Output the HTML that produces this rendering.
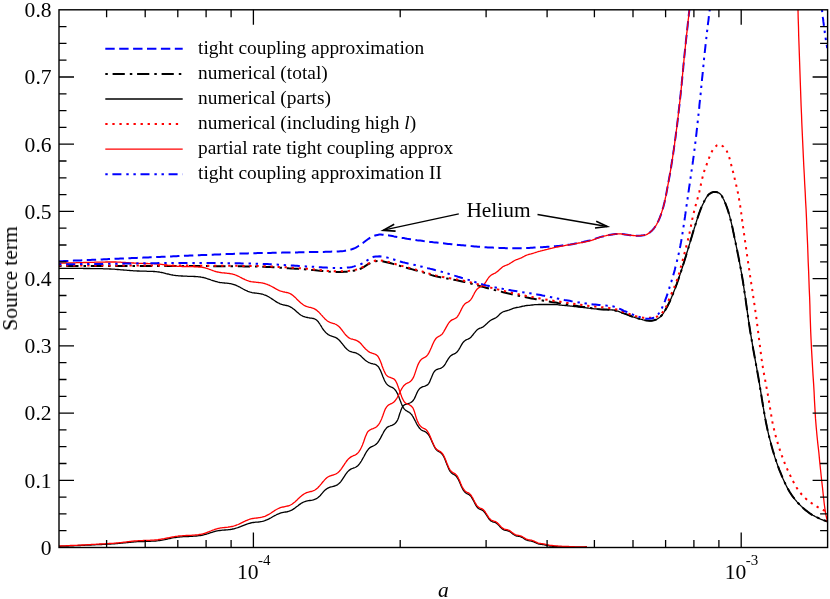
<!DOCTYPE html>
<html><head><meta charset="utf-8"><title>Source term</title>
<style>
html,body{margin:0;padding:0;background:#fff;}
body{width:830px;height:599px;overflow:hidden;}
svg{display:block;font-family:"Liberation Serif",serif;}
</style></head><body>
<svg width="830" height="599" viewBox="0 0 830 599">
<rect x="0" y="0" width="830" height="599" fill="#fff"/>
<defs><clipPath id="cp"><rect x="59.0" y="9.8" width="768.6" height="537.7"/></clipPath></defs>
<g fill="none" clip-path="url(#cp)" stroke-linejoin="round">
<path d="M59.0 261.3 L60.7 261.2 L62.3 261.2 L64.0 261.1 L65.6 261.0 L67.3 260.9 L68.9 260.9 L70.6 260.8 L72.2 260.7 L73.9 260.6 L75.5 260.6 L77.2 260.5 L78.9 260.4 L80.5 260.4 L82.2 260.3 L83.8 260.2 L85.5 260.1 L87.1 260.1 L88.8 260.0 L90.4 259.9 L92.1 259.8 L93.7 259.8 L95.4 259.7 L97.1 259.6 L98.7 259.6 L100.4 259.5 L102.0 259.4 L103.7 259.3 L105.3 259.3 L107.0 259.2 L108.6 259.1 L110.3 259.0 L111.9 259.0 L113.6 258.9 L115.2 258.8 L116.9 258.8 L118.6 258.7 L120.2 258.6 L121.9 258.5 L123.5 258.5 L125.2 258.4 L126.8 258.3 L128.5 258.2 L130.1 258.2 L131.8 258.1 L133.4 258.0 L135.1 257.9 L136.8 257.9 L138.4 257.8 L140.1 257.7 L141.7 257.7 L143.4 257.6 L145.0 257.5 L146.7 257.4 L148.3 257.4 L150.0 257.3 L151.6 257.2 L153.3 257.2 L155.0 257.1 L156.6 257.0 L158.3 256.9 L159.9 256.9 L161.6 256.8 L163.2 256.7 L164.9 256.7 L166.5 256.6 L168.2 256.5 L169.8 256.4 L171.5 256.4 L173.2 256.3 L174.8 256.2 L176.5 256.2 L178.1 256.1 L179.8 256.0 L181.4 256.0 L183.1 255.9 L184.7 255.8 L186.4 255.8 L188.0 255.7 L189.7 255.6 L191.4 255.5 L193.0 255.5 L194.7 255.4 L196.3 255.3 L198.0 255.3 L199.6 255.2 L201.3 255.1 L202.9 255.1 L204.6 255.0 L206.2 254.9 L207.9 254.9 L209.6 254.8 L211.2 254.7 L212.9 254.7 L214.5 254.6 L216.2 254.5 L217.8 254.5 L219.5 254.4 L221.1 254.3 L222.8 254.3 L224.4 254.2 L226.1 254.1 L227.8 254.1 L229.4 254.0 L231.1 253.9 L232.7 253.9 L234.4 253.8 L236.0 253.7 L237.7 253.7 L239.3 253.6 L241.0 253.6 L242.6 253.5 L244.3 253.5 L246.0 253.4 L247.6 253.4 L249.3 253.3 L250.9 253.3 L252.6 253.2 L254.2 253.2 L255.9 253.2 L257.5 253.1 L259.2 253.1 L260.9 253.0 L262.5 253.0 L264.2 253.0 L265.8 252.9 L267.5 252.9 L269.1 252.9 L270.8 252.9 L272.4 252.8 L274.1 252.8 L275.8 252.8 L277.4 252.7 L279.1 252.7 L280.7 252.7 L282.4 252.6 L284.0 252.6 L285.7 252.6 L287.3 252.6 L289.0 252.5 L290.7 252.5 L292.3 252.5 L294.0 252.4 L295.6 252.4 L297.3 252.4 L298.9 252.3 L300.6 252.3 L302.2 252.3 L303.9 252.2 L305.6 252.2 L307.2 252.2 L308.9 252.1 L310.5 252.1 L312.2 252.1 L313.9 252.0 L315.5 252.0 L317.2 252.0 L318.8 252.0 L320.5 251.9 L322.1 251.9 L323.8 251.9 L325.5 251.8 L327.1 251.8 L328.8 251.7 L330.4 251.7 L332.1 251.6 L333.7 251.6 L335.4 251.5 L337.0 251.4 L338.7 251.4 L340.3 251.3 L342.0 251.2 L343.6 251.0 L345.3 250.7 L346.9 250.4 L348.5 250.1 L350.1 249.8 L351.7 249.3 L353.3 248.7 L354.8 248.1 L356.3 247.3 L357.7 246.5 L359.1 245.6 L360.5 244.7 L361.8 243.7 L363.2 242.7 L364.5 241.7 L365.8 240.7 L367.2 239.7 L368.5 238.8 L369.9 237.9 L371.4 237.1 L372.9 236.3 L374.4 235.7 L376.0 235.2 L377.6 234.9 L379.2 234.6 L380.9 234.6 L382.5 234.7 L384.2 234.9 L385.8 235.1 L387.5 235.3 L389.1 235.5 L390.8 235.7 L392.4 236.0 L394.0 236.4 L395.6 236.7 L397.3 237.0 L398.9 237.3 L400.5 237.6 L402.2 237.9 L403.8 238.1 L405.4 238.4 L407.1 238.7 L408.7 238.9 L410.3 239.2 L412.0 239.4 L413.6 239.7 L415.2 239.9 L416.9 240.2 L418.5 240.4 L420.2 240.6 L421.8 240.8 L423.4 241.1 L425.1 241.3 L426.7 241.5 L428.4 241.7 L430.0 241.9 L431.7 242.1 L433.3 242.3 L435.0 242.4 L436.6 242.6 L438.2 242.8 L439.9 243.0 L441.5 243.2 L443.2 243.3 L444.8 243.5 L446.5 243.7 L448.1 243.9 L449.8 244.0 L451.4 244.2 L453.1 244.4 L454.7 244.5 L456.4 244.7 L458.0 244.9 L459.7 245.0 L461.3 245.2 L463.0 245.3 L464.6 245.5 L466.3 245.6 L467.9 245.8 L469.6 245.9 L471.2 246.1 L472.9 246.2 L474.5 246.4 L476.2 246.5 L477.8 246.7 L479.5 246.8 L481.1 246.9 L482.8 247.1 L484.4 247.2 L486.1 247.3 L487.7 247.4 L489.4 247.5 L491.0 247.5 L492.7 247.6 L494.3 247.7 L496.0 247.8 L497.6 247.8 L499.3 247.9 L501.0 248.0 L502.6 248.0 L504.3 248.1 L505.9 248.2 L507.6 248.2 L509.2 248.2 L510.9 248.3 L512.5 248.3 L514.2 248.3 L515.9 248.3 L517.5 248.3 L519.2 248.3 L520.8 248.2 L522.5 248.2 L524.1 248.1 L525.8 248.0 L527.4 248.0 L529.1 247.9 L530.7 247.8 L532.4 247.7 L534.1 247.6 L535.7 247.5 L537.4 247.4 L539.0 247.4 L540.7 247.3 L542.3 247.2 L544.0 247.1 L545.6 247.0 L547.3 246.8 L548.9 246.7 L550.6 246.6 L552.2 246.5 L553.9 246.3 L555.6 246.2 L557.2 246.0 L558.8 245.9 L560.5 245.7 L562.1 245.5 L563.8 245.3 L565.4 245.2 L567.1 244.9 L568.7 244.7 L570.3 244.5 L572.0 244.2 L573.6 243.9 L575.2 243.6 L576.9 243.3 L578.5 242.9 L580.1 242.6 L581.7 242.2 L583.3 241.9 L585.0 241.5 L586.6 241.1 L588.2 240.7 L589.8 240.4 L591.4 239.9 L593.0 239.5 L594.6 239.0 L596.1 238.4 L597.7 237.9 L599.3 237.4 L600.9 236.9 L602.5 236.5 L604.1 236.1 L605.7 235.8 L607.3 235.4 L608.9 235.1 L610.6 234.8 L612.2 234.5 L613.8 234.3 L615.5 234.1 L617.1 233.9 L618.8 233.8 L620.4 233.9 L622.1 234.1 L623.7 234.3 L625.4 234.5 L627.0 234.7 L628.7 235.0 L630.3 235.2 L632.0 235.4 L633.6 235.6 L635.3 235.7 L636.9 235.8 L638.6 235.8 L640.2 235.7 L641.9 235.5 L643.6 235.3 L645.1 235.0 L646.6 234.5 L648.1 233.7 L649.5 232.7 L650.9 231.5 L652.1 230.4 L653.2 229.3 L654.2 228.0 L655.2 226.7 L656.1 225.2 L656.9 223.8 L657.7 222.2 L658.5 220.7 L659.1 219.3 L659.8 217.7 L660.4 216.2 L660.9 214.7 L661.5 213.1 L662.0 211.5 L662.5 209.9 L662.9 208.3 L663.4 206.7 L663.8 205.1 L664.2 203.5 L664.6 201.9 L664.9 200.3 L665.3 198.6 L665.6 197.0 L666.0 195.4 L666.3 193.8 L666.6 192.1 L666.9 190.5 L667.2 188.9 L667.5 187.3 L667.8 185.6 L668.1 184.0 L668.4 182.4 L668.7 180.7 L669.0 179.1 L669.3 177.5 L669.6 175.8 L669.9 174.2 L670.2 172.6 L670.4 170.9 L670.7 169.3 L671.0 167.7 L671.3 166.0 L671.5 164.4 L671.8 162.8 L672.0 161.1 L672.3 159.5 L672.6 157.9 L672.8 156.2 L673.1 154.6 L673.3 153.0 L673.5 151.3 L673.8 149.7 L674.0 148.0 L674.2 146.4 L674.5 144.8 L674.7 143.1 L674.9 141.5 L675.1 139.8 L675.4 138.2 L675.6 136.6 L675.8 134.9 L676.0 133.3 L676.2 131.6 L676.4 130.0 L676.7 128.3 L676.9 126.7 L677.1 125.1 L677.3 123.4 L677.5 121.8 L677.7 120.1 L677.9 118.5 L678.1 116.8 L678.3 115.2 L678.5 113.5 L678.6 111.9 L678.8 110.3 L679.0 108.6 L679.2 107.0 L679.4 105.3 L679.6 103.7 L679.8 102.0 L680.0 100.4 L680.1 98.7 L680.3 97.1 L680.5 95.4 L680.7 93.8 L680.8 92.2 L681.0 90.5 L681.2 88.9 L681.3 87.2 L681.5 85.6 L681.7 83.9 L681.8 82.3 L682.0 80.6 L682.2 79.0 L682.3 77.3 L682.5 75.7 L682.6 74.0 L682.8 72.4 L683.0 70.7 L683.1 69.1 L683.3 67.4 L683.4 65.8 L683.6 64.1 L683.7 62.5 L683.9 60.8 L684.1 59.2 L684.2 57.5 L684.4 55.9 L684.6 54.2 L684.7 52.6 L684.9 51.0 L685.1 49.3 L685.2 47.7 L685.4 46.0 L685.6 44.4 L685.8 42.7 L685.9 41.1 L686.1 39.4 L686.3 37.8 L686.5 36.1 L686.7 34.5 L686.8 32.8 L687.0 31.2 L687.2 29.5 L687.4 27.9 L687.6 26.3 L687.7 24.6 L687.9 23.0 L688.1 21.3 L688.3 19.7 L688.5 18.0 L688.7 16.4 L688.8 14.7 L689.0 13.1 L689.2 11.4 L689.4 9.8" stroke="#0000ff" stroke-width="2" stroke-dasharray="9.4 4.5"/>
<path d="M59.0 266.0 L61.2 266.0 L63.5 266.0 L65.7 266.0 L67.9 266.0 L70.2 266.0 L72.4 266.0 L74.6 266.0 L76.8 266.0 L79.1 266.0 L81.3 266.0 L83.5 266.0 L85.8 266.0 L88.0 266.0 L90.2 266.0 L92.5 266.0 L94.7 266.0 L96.9 266.0 L99.1 266.0 L101.4 266.0 L103.6 266.0 L105.8 266.0 L108.1 266.0 L110.3 266.0 L112.5 266.0 L114.8 266.0 L117.0 266.0 L119.2 266.0 L121.4 266.0 L123.7 266.0 L125.9 266.0 L128.1 266.0 L130.4 266.0 L132.6 266.0 L134.8 266.0 L137.1 266.0 L139.3 266.0 L141.5 266.0 L143.7 266.0 L146.0 266.0 L148.2 266.0 L150.4 266.0 L152.7 266.0 L154.9 266.0 L157.1 266.0 L159.4 266.0 L161.6 266.0 L163.8 266.0 L166.1 266.0 L168.3 266.0 L170.5 266.0 L172.7 266.0 L175.0 266.0 L177.2 266.0 L179.4 266.0 L181.7 266.0 L183.9 266.0 L186.1 266.1 L188.4 266.1 L190.6 266.1 L192.8 266.1 L195.1 266.1 L197.3 266.1 L199.5 266.1 L201.7 266.1 L204.0 266.1 L206.2 266.1 L208.4 266.1 L210.7 266.1 L212.9 266.2 L215.1 266.2 L217.4 266.2 L219.6 266.2 L221.8 266.2 L224.0 266.2 L226.3 266.2 L228.5 266.2 L230.7 266.3 L233.0 266.3 L235.2 266.3 L237.4 266.3 L239.7 266.3 L241.9 266.3 L244.1 266.4 L246.3 266.4 L248.6 266.4 L250.8 266.4 L253.0 266.4 L255.3 266.5 L257.5 266.5 L259.7 266.6 L261.9 266.7 L264.2 266.8 L266.4 266.9 L268.6 267.0 L270.8 267.1 L273.1 267.3 L275.3 267.4 L277.5 267.5 L279.8 267.7 L282.0 267.8 L284.2 268.0 L286.4 268.1 L288.7 268.3 L290.9 268.4 L293.1 268.6 L295.3 268.7 L297.6 268.8 L299.8 269.0 L302.0 269.1 L304.2 269.3 L306.5 269.5 L308.7 269.7 L310.9 269.9 L313.1 270.1 L315.4 270.3 L317.6 270.6 L319.8 270.8 L322.0 271.0 L324.3 271.2 L326.5 271.4 L328.7 271.6 L330.9 271.7 L333.2 271.8 L335.4 271.9 L337.6 272.0 L339.8 272.0 L342.1 272.0 L344.3 271.8 L346.5 271.7 L348.7 271.4 L350.9 271.2 L353.2 270.8 L355.3 270.4 L357.5 269.8 L359.6 269.0 L361.7 268.2 L363.6 267.1 L365.5 265.9 L367.4 264.7 L369.3 263.6 L371.3 262.6 L373.4 261.7 L375.5 261.2 L377.8 261.1 L380.0 261.0 L382.2 261.2 L384.4 261.7 L386.6 262.2 L388.8 262.7 L390.9 263.3 L393.1 263.9 L395.2 264.6 L397.3 265.2 L399.5 265.8 L401.6 266.5 L403.8 267.0 L405.9 267.6 L408.1 268.2 L410.2 268.8 L412.4 269.4 L414.5 270.0 L416.7 270.6 L418.8 271.2 L421.0 271.8 L423.1 272.4 L425.2 273.1 L427.4 273.7 L429.5 274.4 L431.6 275.1 L433.8 275.7 L435.9 276.2 L438.1 276.8 L440.3 277.2 L442.4 277.7 L444.6 278.1 L446.8 278.5 L449.0 278.9 L451.2 279.3 L453.4 279.7 L455.6 280.1 L457.8 280.5 L460.0 280.9 L462.2 281.4 L464.4 281.9 L466.5 282.4 L468.7 282.9 L470.9 283.5 L473.0 284.0 L475.2 284.6 L477.3 285.2 L479.5 285.9 L481.6 286.5 L483.7 287.1 L485.9 287.7 L488.0 288.3 L490.2 288.9 L492.4 289.4 L494.5 290.0 L496.7 290.5 L498.8 291.1 L501.0 291.6 L503.2 292.2 L505.3 292.7 L507.5 293.3 L509.7 293.8 L511.8 294.3 L514.0 294.8 L516.2 295.3 L518.4 295.7 L520.5 296.2 L522.7 296.7 L524.9 297.1 L527.1 297.6 L529.3 298.0 L531.5 298.4 L533.7 298.8 L535.9 299.2 L538.1 299.7 L540.2 300.0 L542.4 300.4 L544.6 300.8 L546.8 301.2 L549.0 301.5 L551.2 301.9 L553.5 302.2 L555.7 302.5 L557.9 302.9 L560.1 303.2 L562.3 303.6 L564.5 303.9 L566.7 304.3 L568.9 304.6 L571.1 305.0 L573.3 305.4 L575.5 305.7 L577.7 306.1 L579.9 306.4 L582.1 306.8 L584.3 307.1 L586.5 307.5 L588.7 307.8 L590.9 308.1 L593.1 308.5 L595.3 308.8 L597.5 309.1 L599.7 309.3 L602.0 309.4 L604.2 309.5 L606.5 309.6 L608.7 309.7 L610.9 309.9 L613.1 310.1 L615.3 310.5 L617.4 311.1 L619.5 311.8 L621.6 312.6 L623.8 313.4 L625.9 314.1 L628.0 314.9 L630.1 315.7 L632.1 316.5 L634.2 317.3 L636.3 318.0 L638.5 318.6 L640.6 319.2 L642.8 319.7 L645.0 320.2 L647.2 320.6 L649.4 320.8 L651.7 320.7 L653.9 320.3 L656.0 319.6 L658.0 318.5 L659.8 317.3 L661.3 315.8 L662.7 314.1 L664.0 312.2 L665.2 310.2 L666.3 308.2 L667.4 306.3 L668.4 304.3 L669.4 302.3 L670.3 300.3 L671.2 298.2 L672.1 296.1 L672.9 294.1 L673.7 292.0 L674.5 289.9 L675.3 287.8 L676.1 285.7 L676.9 283.6 L677.6 281.5 L678.4 279.4 L679.1 277.3 L679.8 275.2 L680.5 273.1 L681.2 271.0 L681.9 268.8 L682.6 266.7 L683.2 264.6 L683.9 262.5 L684.6 260.3 L685.2 258.2 L685.9 256.1 L686.5 253.9 L687.2 251.8 L687.8 249.7 L688.5 247.5 L689.1 245.4 L689.8 243.3 L690.4 241.1 L691.0 239.0 L691.7 236.8 L692.3 234.7 L692.9 232.6 L693.6 230.4 L694.2 228.3 L694.9 226.2 L695.6 224.1 L696.3 221.9 L697.0 219.8 L697.7 217.6 L698.4 215.5 L699.1 213.4 L699.9 211.3 L700.7 209.2 L701.5 207.2 L702.4 205.2 L703.4 203.1 L704.4 201.0 L705.5 198.9 L706.8 196.9 L708.1 195.1 L709.6 193.8 L711.4 192.7 L713.6 191.9 L715.8 191.9 L718.1 192.6 L719.8 193.5 L721.2 195.0 L722.4 197.0 L723.5 199.2 L724.5 201.4 L725.4 203.4 L726.2 205.5 L727.0 207.6 L727.7 209.7 L728.4 211.9 L729.0 214.0 L729.6 216.2 L730.2 218.3 L730.8 220.5 L731.3 222.6 L731.8 224.8 L732.3 227.0 L732.8 229.2 L733.2 231.4 L733.7 233.5 L734.1 235.7 L734.6 237.9 L735.0 240.1 L735.5 242.3 L735.9 244.5 L736.4 246.7 L736.8 248.8 L737.3 251.0 L737.7 253.2 L738.2 255.4 L738.6 257.6 L739.0 259.8 L739.4 262.0 L739.8 264.2 L740.3 266.4 L740.7 268.5 L741.1 270.7 L741.5 272.9 L741.8 275.1 L742.2 277.3 L742.6 279.5 L743.0 281.7 L743.3 283.9 L743.7 286.1 L744.0 288.3 L744.3 290.5 L744.6 292.7 L745.0 295.0 L745.3 297.2 L745.6 299.4 L745.9 301.6 L746.2 303.8 L746.5 306.0 L746.8 308.2 L747.1 310.4 L747.4 312.6 L747.7 314.8 L748.1 317.0 L748.4 319.3 L748.7 321.5 L749.0 323.7 L749.4 325.9 L749.7 328.1 L750.0 330.3 L750.4 332.5 L750.8 334.7 L751.1 336.9 L751.5 339.1 L751.9 341.3 L752.3 343.5 L752.6 345.7 L753.0 347.9 L753.4 350.1 L753.8 352.3 L754.2 354.5 L754.6 356.6 L755.0 358.8 L755.4 361.0 L755.8 363.2 L756.2 365.4 L756.6 367.6 L757.0 369.8 L757.4 372.0 L757.8 374.2 L758.2 376.4 L758.6 378.6 L758.9 380.8 L759.3 383.0 L759.7 385.2 L760.0 387.4 L760.4 389.6 L760.8 391.8 L761.1 394.0 L761.5 396.2 L761.8 398.4 L762.2 400.6 L762.5 402.8 L762.9 405.0 L763.3 407.2 L763.6 409.4 L764.0 411.6 L764.4 413.8 L764.8 416.0 L765.2 418.2 L765.6 420.4 L766.0 422.6 L766.5 424.8 L766.9 426.9 L767.4 429.1 L767.9 431.3 L768.4 433.5 L768.9 435.6 L769.4 437.8 L770.0 440.0 L770.6 442.1 L771.1 444.3 L771.7 446.4 L772.3 448.6 L772.9 450.7 L773.6 452.9 L774.2 455.0 L774.9 457.1 L775.6 459.2 L776.3 461.4 L777.0 463.5 L777.8 465.6 L778.5 467.7 L779.3 469.8 L780.2 471.8 L781.0 473.9 L781.8 476.0 L782.7 478.0 L783.6 480.0 L784.5 482.1 L785.5 484.1 L786.5 486.1 L787.5 488.1 L788.6 490.1 L789.7 492.0 L790.9 493.8 L792.1 495.7 L793.5 497.5 L794.9 499.3 L796.3 501.0 L797.8 502.7 L799.3 504.3 L800.9 505.8 L802.5 507.4 L804.2 508.9 L805.9 510.4 L807.7 511.8 L809.5 513.1 L811.3 514.3 L813.2 515.4 L815.1 516.4 L817.1 517.4 L819.1 518.4 L821.2 519.3 L823.3 520.1 L825.4 520.8 L827.6 521.5" stroke="#000000" stroke-width="2" stroke-dasharray="2.5 4.8 12.2 5"/>
<path d="M59.0 268.3 L59.9 268.3 L60.8 268.3 L61.7 268.3 L62.6 268.3 L63.6 268.3 L64.5 268.3 L65.4 268.3 L66.3 268.3 L67.2 268.3 L68.1 268.3 L69.0 268.3 L69.9 268.3 L70.8 268.3 L71.7 268.3 L72.6 268.4 L73.6 268.4 L74.5 268.4 L75.4 268.4 L76.3 268.4 L77.2 268.4 L78.1 268.4 L79.0 268.4 L79.9 268.4 L80.8 268.4 L81.7 268.4 L82.7 268.4 L83.6 268.5 L84.5 268.5 L85.4 268.5 L86.3 268.5 L87.2 268.5 L88.1 268.5 L89.0 268.5 L89.9 268.5 L90.8 268.6 L91.7 268.6 L92.7 268.6 L93.6 268.6 L94.5 268.6 L95.4 268.6 L96.3 268.6 L97.2 268.6 L98.1 268.7 L99.0 268.7 L99.9 268.7 L100.8 268.7 L101.7 268.7 L102.6 268.7 L103.6 268.8 L104.5 268.8 L105.4 268.8 L106.3 268.8 L107.2 268.9 L108.1 268.9 L109.0 268.9 L109.9 269.0 L110.8 269.0 L111.7 269.1 L112.6 269.1 L113.6 269.2 L114.5 269.2 L115.4 269.3 L116.3 269.4 L117.2 269.5 L118.1 269.5 L119.0 269.6 L119.9 269.7 L120.8 269.8 L121.7 269.8 L122.6 269.9 L123.5 270.0 L124.4 270.1 L125.4 270.2 L126.3 270.2 L127.2 270.3 L128.1 270.4 L129.0 270.4 L129.9 270.5 L130.8 270.6 L131.7 270.6 L132.6 270.7 L133.5 270.8 L134.4 270.8 L135.3 270.9 L136.3 270.9 L137.2 271.0 L138.1 271.0 L139.0 271.0 L139.9 271.1 L140.8 271.1 L141.7 271.1 L142.6 271.1 L143.5 271.2 L144.4 271.2 L145.3 271.2 L146.2 271.2 L147.1 271.3 L148.1 271.3 L149.0 271.3 L149.9 271.3 L150.8 271.4 L151.7 271.4 L152.6 271.4 L153.5 271.5 L154.4 271.5 L155.3 271.6 L156.2 271.7 L157.1 271.8 L158.0 271.9 L158.9 272.0 L159.8 272.2 L160.7 272.3 L161.6 272.5 L162.5 272.7 L163.4 272.9 L164.3 273.1 L165.2 273.3 L166.1 273.6 L167.0 273.8 L167.9 274.0 L168.8 274.2 L169.7 274.5 L170.6 274.7 L171.5 274.8 L172.4 275.0 L173.3 275.2 L174.2 275.3 L175.1 275.4 L176.0 275.6 L176.9 275.7 L177.8 275.7 L178.7 275.8 L179.6 275.9 L180.5 275.9 L181.4 276.0 L182.3 276.0 L183.2 276.1 L184.2 276.1 L185.1 276.2 L186.0 276.2 L186.9 276.2 L187.8 276.3 L188.7 276.3 L189.6 276.3 L190.5 276.3 L191.4 276.4 L192.3 276.4 L193.2 276.4 L194.1 276.5 L195.0 276.5 L195.9 276.6 L196.8 276.7 L197.7 276.7 L198.6 276.8 L199.5 276.9 L200.4 277.0 L201.3 277.2 L202.2 277.3 L203.1 277.5 L204.0 277.7 L204.9 278.0 L205.8 278.2 L206.7 278.5 L207.6 278.8 L208.5 279.1 L209.4 279.4 L210.3 279.7 L211.1 280.0 L212.0 280.3 L212.9 280.6 L213.8 280.9 L214.7 281.2 L215.6 281.5 L216.5 281.7 L217.4 281.9 L218.2 282.1 L219.1 282.3 L220.0 282.5 L220.9 282.6 L221.8 282.7 L222.7 282.8 L223.5 282.9 L224.4 283.0 L225.3 283.1 L226.2 283.2 L227.0 283.2 L227.9 283.3 L228.8 283.4 L229.7 283.6 L230.5 283.7 L231.4 283.9 L232.3 284.1 L233.1 284.3 L234.0 284.6 L234.9 284.9 L235.7 285.2 L236.6 285.6 L237.5 286.0 L238.3 286.4 L239.2 286.8 L240.1 287.3 L240.9 287.8 L241.8 288.2 L242.7 288.7 L243.5 289.2 L244.4 289.7 L245.2 290.1 L246.1 290.5 L247.0 290.9 L247.8 291.3 L248.7 291.6 L249.5 291.9 L250.4 292.2 L251.3 292.4 L252.1 292.6 L253.0 292.8 L253.9 292.9 L254.7 293.0 L255.6 293.1 L256.5 293.2 L257.3 293.3 L258.2 293.4 L259.1 293.6 L259.9 293.7 L260.8 293.8 L261.6 294.0 L262.5 294.2 L263.4 294.5 L264.2 294.8 L265.1 295.1 L265.9 295.4 L266.8 295.8 L267.7 296.3 L268.5 296.7 L269.4 297.2 L270.2 297.8 L271.0 298.3 L271.9 298.9 L272.7 299.4 L273.6 300.0 L274.4 300.5 L275.2 301.1 L276.0 301.6 L276.8 302.1 L277.7 302.6 L278.5 303.0 L279.3 303.4 L280.1 303.8 L280.9 304.1 L281.7 304.4 L282.5 304.6 L283.3 304.8 L284.0 305.0 L284.8 305.1 L285.6 305.3 L286.4 305.5 L287.2 305.7 L288.0 305.9 L288.8 306.2 L289.5 306.5 L290.3 306.9 L291.1 307.3 L291.9 307.8 L292.7 308.4 L293.5 309.0 L294.3 309.6 L295.1 310.3 L295.9 311.0 L296.7 311.7 L297.5 312.4 L298.3 313.1 L299.1 313.8 L299.9 314.4 L300.7 315.0 L301.5 315.5 L302.4 315.9 L303.2 316.3 L304.1 316.6 L304.9 316.9 L305.8 317.1 L306.6 317.3 L307.5 317.5 L308.3 317.7 L309.2 317.8 L310.0 318.0 L310.8 318.1 L311.6 318.2 L312.4 318.4 L313.2 318.5 L314.0 318.7 L314.7 319.0 L315.4 319.3 L316.1 319.7 L316.8 320.3 L317.5 320.9 L318.2 321.7 L318.8 322.6 L319.5 323.5 L320.1 324.5 L320.8 325.6 L321.5 326.7 L322.1 327.8 L322.8 328.8 L323.4 329.8 L324.1 330.6 L324.8 331.4 L325.5 332.2 L326.2 332.9 L326.9 333.5 L327.6 334.1 L328.3 334.6 L329.0 335.0 L329.7 335.4 L330.4 335.7 L331.0 335.9 L331.7 336.2 L332.4 336.4 L333.1 336.6 L333.8 336.8 L334.5 337.0 L335.2 337.3 L336.0 337.7 L336.7 338.1 L337.4 338.6 L338.1 339.2 L338.8 339.8 L339.5 340.5 L340.2 341.3 L340.9 342.1 L341.6 343.0 L342.4 343.9 L343.1 344.8 L343.8 345.7 L344.5 346.6 L345.2 347.5 L346.0 348.3 L346.7 349.0 L347.4 349.6 L348.2 350.2 L348.9 350.7 L349.6 351.1 L350.4 351.5 L351.1 351.7 L351.9 352.0 L352.6 352.2 L353.4 352.3 L354.1 352.5 L354.9 352.7 L355.7 352.9 L356.5 353.2 L357.2 353.6 L358.0 354.0 L358.8 354.4 L359.5 355.0 L360.3 355.6 L361.1 356.3 L361.9 357.1 L362.6 357.8 L363.4 358.6 L364.2 359.3 L365.0 360.0 L365.9 360.7 L366.7 361.3 L367.5 361.8 L368.3 362.3 L369.1 362.7 L370.0 363.0 L370.8 363.3 L371.5 363.5 L372.3 363.7 L373.0 363.9 L373.8 364.1 L374.4 364.2 L375.1 364.4 L375.7 364.6 L376.4 365.0 L376.9 365.4 L377.5 365.9 L378.1 366.5 L378.7 367.2 L379.2 368.1 L379.7 369.1 L380.3 370.1 L380.8 371.3 L381.3 372.5 L381.8 373.8 L382.3 375.1 L382.8 376.4 L383.3 377.6 L383.8 378.8 L384.3 380.0 L384.8 381.1 L385.4 382.0 L385.9 382.9 L386.4 383.6 L386.9 384.2 L387.5 384.8 L388.0 385.2 L388.6 385.6 L389.1 386.0 L389.7 386.3 L390.3 386.6 L390.8 386.8 L391.4 387.1 L392.0 387.3 L392.5 387.6 L393.1 388.0 L393.7 388.4 L394.2 388.9 L394.8 389.5 L395.3 390.1 L395.9 390.9 L396.4 391.7 L396.9 392.7 L397.5 393.7 L398.0 394.8 L398.5 395.9 L399.0 397.2 L399.4 398.4 L399.9 399.7 L400.4 401.0 L400.9 402.2 L401.3 403.4 L401.8 404.6 L402.3 405.6 L402.7 406.5 L403.2 407.4 L403.7 408.1 L404.2 408.8 L404.7 409.4 L405.2 409.9 L405.7 410.4 L406.2 410.7 L406.8 411.0 L407.3 411.3 L407.8 411.6 L408.3 411.9 L408.8 412.1 L409.3 412.5 L409.9 412.9 L410.4 413.3 L410.9 413.9 L411.5 414.5 L412.0 415.2 L412.5 416.0 L413.1 416.9 L413.6 417.9 L414.2 419.0 L414.8 420.1 L415.4 421.3 L416.0 422.4 L416.5 423.5 L417.1 424.6 L417.8 425.7 L418.4 426.6 L419.0 427.5 L419.6 428.3 L420.2 428.9 L420.8 429.5 L421.4 430.0 L422.1 430.4 L422.7 430.7 L423.3 431.0 L423.9 431.2 L424.5 431.4 L425.1 431.7 L425.7 432.0 L426.3 432.4 L426.9 432.9 L427.4 433.5 L428.0 434.2 L428.6 434.9 L429.2 435.8 L429.7 436.8 L430.3 437.8 L430.8 439.0 L431.4 440.2 L431.9 441.4 L432.4 442.6 L433.0 443.8 L433.5 444.9 L434.0 446.0 L434.5 447.0 L435.0 447.8 L435.5 448.6 L436.0 449.3 L436.5 449.9 L437.0 450.4 L437.5 450.8 L438.0 451.1 L438.5 451.4 L439.0 451.7 L439.5 452.0 L440.0 452.3 L440.5 452.6 L441.0 453.0 L441.5 453.5 L442.0 454.0 L442.5 454.7 L443.0 455.4 L443.5 456.3 L444.0 457.2 L444.5 458.3 L445.0 459.4 L445.4 460.6 L445.9 461.9 L446.4 463.1 L446.9 464.4 L447.4 465.6 L447.9 466.8 L448.4 468.0 L448.8 469.0 L449.3 470.0 L449.8 470.8 L450.3 471.6 L450.8 472.2 L451.3 472.8 L451.8 473.2 L452.3 473.6 L452.8 473.9 L453.3 474.2 L453.8 474.4 L454.3 474.7 L454.8 475.0 L455.3 475.4 L455.8 475.8 L456.3 476.4 L456.8 477.0 L457.3 477.8 L457.9 478.6 L458.4 479.6 L458.9 480.7 L459.4 481.8 L459.9 483.0 L460.5 484.2 L461.0 485.5 L461.5 486.7 L462.1 487.8 L462.6 488.9 L463.1 489.8 L463.7 490.7 L464.2 491.4 L464.8 492.0 L465.3 492.5 L465.8 492.9 L466.4 493.3 L466.9 493.6 L467.5 493.8 L468.1 494.1 L468.6 494.4 L469.2 494.7 L469.7 495.2 L470.3 495.7 L470.9 496.4 L471.5 497.2 L472.0 498.1 L472.6 499.1 L473.2 500.2 L473.8 501.3 L474.4 502.5 L475.0 503.6 L475.5 504.7 L476.1 505.7 L476.7 506.6 L477.3 507.3 L477.9 508.0 L478.5 508.5 L479.2 508.9 L479.8 509.2 L480.4 509.5 L481.0 509.7 L481.6 509.9 L482.2 510.2 L482.9 510.6 L483.5 511.1 L484.1 511.8 L484.7 512.5 L485.4 513.4 L486.0 514.4 L486.7 515.4 L487.3 516.4 L488.0 517.5 L488.6 518.5 L489.3 519.3 L490.0 520.1 L490.6 520.7 L491.3 521.2 L492.0 521.5 L492.7 521.8 L493.4 522.0 L494.1 522.2 L494.8 522.4 L495.6 522.7 L496.3 523.1 L497.0 523.7 L497.8 524.3 L498.5 525.1 L499.3 525.9 L500.0 526.7 L500.8 527.5 L501.6 528.3 L502.3 528.9 L503.1 529.4 L503.9 529.8 L504.6 530.1 L505.4 530.3 L506.2 530.4 L507.0 530.6 L507.8 530.8 L508.6 531.1 L509.4 531.5 L510.3 532.0 L511.1 532.6 L511.9 533.3 L512.7 533.9 L513.6 534.5 L514.4 535.0 L515.2 535.5 L516.0 535.8 L516.9 536.0 L517.7 536.2 L518.5 536.3 L519.4 536.4 L520.2 536.6 L521.0 536.9 L521.9 537.3 L522.7 537.8 L523.6 538.3 L524.4 538.9 L525.3 539.4 L526.1 539.9 L527.0 540.2 L527.8 540.5 L528.7 540.7 L529.5 540.8 L530.4 540.9 L531.3 541.1 L532.1 541.3 L533.0 541.5 L533.8 541.9 L534.7 542.3 L535.6 542.7 L536.5 543.1 L537.3 543.5 L538.2 543.8 L539.1 544.0 L540.0 544.2 L540.8 544.3 L541.7 544.4 L542.6 544.5 L543.5 544.7 L544.4 544.8 L545.3 545.0 L546.2 545.3 L547.1 545.5 L548.0 545.7 L548.9 545.9 L549.8 546.0 L550.7 546.1 L551.6 546.2 L552.5 546.3 L553.4 546.4 L554.3 546.5 L555.2 546.5 L556.1 546.6 L557.0 546.7 L557.9 546.8 L558.8 546.9 L559.7 546.9 L560.6 547.0 L561.5 547.0 L562.4 547.1 L563.4 547.1 L564.3 547.2 L565.2 547.2 L566.1 547.2 L567.0 547.2 L567.9 547.2 L568.8 547.2 L569.7 547.2 L570.6 547.2 L571.5 547.2 L572.4 547.2 L573.4 547.2 L574.3 547.2 L575.2 547.2 L576.1 547.2 L577.0 547.2 L577.9 547.2 L578.8 547.2 L579.7 547.1 L580.6 547.1 L581.5 547.1 L582.4 547.1 L583.4 547.1 L584.3 547.1 L585.2 547.0 L586.1 547.0 L587.0 547.0" stroke="#000000" stroke-width="1.3"/>
<path d="M59.0 546.3 L60.3 546.3 L61.6 546.2 L63.0 546.2 L64.3 546.1 L65.6 546.1 L66.9 546.0 L68.3 546.0 L69.6 545.9 L70.9 545.9 L72.2 545.8 L73.6 545.8 L74.9 545.7 L76.2 545.7 L77.5 545.6 L78.9 545.5 L80.2 545.5 L81.5 545.4 L82.8 545.4 L84.2 545.3 L85.5 545.2 L86.8 545.2 L88.1 545.1 L89.5 545.0 L90.8 545.0 L92.1 544.9 L93.4 544.8 L94.7 544.8 L96.1 544.7 L97.4 544.6 L98.7 544.6 L100.0 544.5 L101.4 544.5 L102.7 544.4 L104.0 544.4 L105.3 544.3 L106.7 544.2 L108.0 544.2 L109.3 544.1 L110.6 544.0 L111.9 543.9 L113.3 543.9 L114.6 543.8 L115.9 543.7 L117.2 543.6 L118.6 543.4 L119.9 543.3 L121.2 543.2 L122.5 543.1 L123.9 542.9 L125.2 542.8 L126.5 542.7 L127.8 542.5 L129.1 542.4 L130.5 542.3 L131.8 542.1 L133.1 542.0 L134.4 541.9 L135.8 541.8 L137.1 541.7 L138.4 541.7 L139.7 541.6 L141.0 541.6 L142.4 541.5 L143.7 541.5 L145.0 541.4 L146.3 541.4 L147.6 541.3 L149.0 541.3 L150.3 541.3 L151.6 541.2 L152.9 541.1 L154.2 541.1 L155.5 541.0 L156.9 540.8 L158.2 540.7 L159.5 540.5 L160.8 540.3 L162.1 540.1 L163.4 539.8 L164.7 539.6 L166.1 539.3 L167.4 539.0 L168.7 538.7 L170.0 538.5 L171.3 538.2 L172.6 537.9 L174.0 537.7 L175.3 537.5 L176.6 537.3 L177.9 537.2 L179.2 537.0 L180.5 536.9 L181.9 536.8 L183.2 536.7 L184.5 536.6 L185.8 536.6 L187.1 536.5 L188.4 536.5 L189.8 536.4 L191.1 536.4 L192.4 536.3 L193.7 536.2 L195.0 536.1 L196.3 536.0 L197.6 535.9 L199.0 535.7 L200.3 535.5 L201.6 535.3 L202.9 535.0 L204.2 534.7 L205.5 534.3 L206.8 534.0 L208.1 533.6 L209.4 533.1 L210.7 532.7 L212.0 532.3 L213.3 531.9 L214.6 531.5 L215.9 531.2 L217.2 530.9 L218.5 530.7 L219.8 530.5 L221.1 530.3 L222.4 530.2 L223.7 530.1 L225.0 530.0 L226.2 529.9 L227.5 529.8 L228.8 529.6 L230.1 529.5 L231.4 529.3 L232.7 529.0 L234.0 528.8 L235.3 528.4 L236.6 528.0 L237.9 527.6 L239.2 527.1 L240.5 526.6 L241.7 526.1 L243.0 525.6 L244.3 525.1 L245.6 524.6 L246.9 524.1 L248.2 523.7 L249.4 523.3 L250.7 523.0 L252.0 522.7 L253.3 522.5 L254.6 522.4 L255.8 522.2 L257.1 522.1 L258.4 522.0 L259.7 521.8 L260.9 521.6 L262.2 521.4 L263.5 521.1 L264.8 520.7 L266.0 520.2 L267.3 519.7 L268.5 519.1 L269.8 518.4 L271.1 517.7 L272.3 517.0 L273.5 516.3 L274.8 515.6 L276.0 515.0 L277.2 514.3 L278.5 513.8 L279.7 513.3 L280.9 512.9 L282.1 512.6 L283.3 512.4 L284.5 512.2 L285.7 512.0 L286.9 511.8 L288.1 511.5 L289.3 511.1 L290.5 510.7 L291.7 510.1 L292.9 509.4 L294.1 508.6 L295.3 507.8 L296.5 506.8 L297.7 505.9 L298.9 504.9 L300.1 504.1 L301.3 503.3 L302.5 502.6 L303.7 502.0 L304.9 501.6 L306.2 501.2 L307.4 500.9 L308.6 500.7 L309.8 500.5 L311.0 500.3 L312.2 500.1 L313.4 499.8 L314.6 499.4 L315.8 498.9 L317.0 498.3 L318.1 497.5 L319.2 496.6 L320.3 495.5 L321.4 494.2 L322.5 492.9 L323.5 491.6 L324.6 490.5 L325.7 489.6 L326.8 488.8 L327.9 488.1 L329.0 487.6 L330.1 487.2 L331.2 486.8 L332.3 486.6 L333.4 486.3 L334.5 486.0 L335.6 485.7 L336.7 485.2 L337.7 484.6 L338.7 483.8 L339.8 482.8 L340.8 481.6 L341.7 480.3 L342.7 478.8 L343.7 477.3 L344.7 475.8 L345.6 474.4 L346.6 473.1 L347.5 471.9 L348.5 470.9 L349.4 470.1 L350.4 469.4 L351.3 468.9 L352.3 468.5 L353.2 468.2 L354.1 467.8 L355.1 467.5 L356.0 467.0 L356.9 466.4 L357.8 465.7 L358.7 464.8 L359.6 463.7 L360.5 462.4 L361.4 461.0 L362.3 459.4 L363.2 457.8 L364.1 456.2 L364.9 454.6 L365.8 453.0 L366.6 451.6 L367.5 450.3 L368.3 449.3 L369.1 448.4 L370.0 447.6 L370.8 447.1 L371.7 446.6 L372.5 446.3 L373.3 445.9 L374.2 445.5 L375.0 445.0 L375.9 444.4 L376.8 443.6 L377.6 442.7 L378.5 441.5 L379.3 440.2 L380.2 438.7 L381.0 437.1 L381.9 435.4 L382.8 433.8 L383.6 432.2 L384.5 430.7 L385.4 429.4 L386.3 428.3 L387.1 427.4 L388.0 426.8 L389.0 426.3 L389.9 426.0 L390.9 425.6 L391.9 425.3 L392.8 424.9 L393.8 424.4 L394.7 423.8 L395.5 423.0 L396.3 422.0 L397.1 420.9 L397.8 419.4 L398.5 417.7 L399.1 415.8 L399.7 413.8 L400.4 411.9 L401.0 410.1 L401.7 408.5 L402.3 407.1 L403.1 406.1 L403.9 405.3 L404.7 404.7 L405.7 404.3 L406.6 404.0 L407.7 403.7 L408.7 403.4 L409.8 403.0 L410.8 402.5 L411.7 401.9 L412.7 401.1 L413.5 400.0 L414.4 398.6 L415.2 396.9 L415.9 395.2 L416.7 393.4 L417.5 391.8 L418.3 390.3 L419.2 389.1 L420.0 388.2 L421.0 387.6 L421.9 387.1 L422.9 386.7 L424.0 386.4 L425.0 386.1 L425.9 385.7 L426.9 385.2 L427.8 384.6 L428.6 383.6 L429.4 382.4 L430.1 380.8 L430.8 379.1 L431.6 377.3 L432.3 375.4 L433.0 373.7 L433.8 372.3 L434.6 371.2 L435.5 370.3 L436.4 369.7 L437.4 369.3 L438.4 368.9 L439.5 368.6 L440.5 368.3 L441.5 367.8 L442.5 367.2 L443.5 366.3 L444.5 365.2 L445.4 363.8 L446.3 362.2 L447.2 360.7 L448.1 359.1 L449.0 357.8 L449.9 356.6 L450.8 355.7 L451.7 355.1 L452.6 354.6 L453.4 354.2 L454.3 353.9 L455.2 353.4 L456.1 352.8 L457.0 352.0 L457.9 350.9 L458.8 349.6 L459.7 348.1 L460.6 346.5 L461.5 344.9 L462.4 343.4 L463.3 342.2 L464.2 341.2 L465.2 340.5 L466.1 339.9 L467.0 339.5 L468.0 339.1 L468.9 338.7 L469.9 338.1 L470.9 337.3 L471.8 336.2 L472.8 335.0 L473.8 333.7 L474.9 332.4 L475.9 331.1 L476.9 330.1 L477.9 329.2 L479.0 328.6 L480.0 328.2 L481.0 327.8 L482.1 327.3 L483.2 326.8 L484.2 326.0 L485.3 325.1 L486.4 324.1 L487.5 323.0 L488.6 321.9 L489.7 321.0 L490.8 320.2 L491.9 319.6 L493.0 319.1 L494.1 318.6 L495.1 318.2 L496.2 317.5 L497.2 316.7 L498.3 315.7 L499.4 314.6 L500.5 313.6 L501.6 312.7 L502.7 312.0 L503.9 311.5 L505.1 311.2 L506.3 310.8 L507.5 310.5 L508.8 310.1 L510.1 309.6 L511.4 309.1 L512.6 308.6 L513.9 308.2 L515.2 307.8 L516.5 307.5 L517.8 307.3 L519.0 307.1 L520.3 306.8 L521.6 306.5 L523.0 306.2 L524.3 306.0 L525.6 305.7 L526.9 305.5 L528.2 305.4 L529.5 305.3 L530.8 305.1 L532.1 305.0 L533.5 304.9 L534.8 304.7 L536.1 304.6 L537.4 304.6 L538.8 304.5 L540.1 304.5 L541.4 304.5 L542.7 304.5 L544.1 304.5 L545.4 304.5 L546.7 304.5 L548.0 304.5 L549.4 304.5 L550.7 304.5 L552.0 304.5 L553.3 304.5 L554.7 304.5 L556.0 304.6 L557.3 304.7 L558.6 304.8 L559.9 305.0 L561.3 305.1 L562.6 305.3 L563.9 305.4 L565.2 305.5 L566.5 305.6 L567.9 305.8 L569.2 305.9 L570.5 306.1 L571.8 306.2 L573.1 306.3 L574.4 306.5 L575.8 306.7 L577.1 306.8 L578.4 307.0 L579.7 307.1 L581.0 307.3 L582.3 307.4 L583.7 307.6 L585.0 307.7 L586.3 307.9 L587.6 308.0 L588.9 308.2 L590.2 308.3 L591.6 308.5 L592.9 308.6 L594.2 308.8 L595.5 308.9 L596.8 309.0 L598.2 309.2 L599.5 309.3 L600.8 309.4 L602.1 309.4 L603.5 309.5 L604.8 309.6 L606.1 309.6 L607.4 309.7 L608.8 309.7 L610.1 309.8 L611.4 309.9 L612.7 310.0 L614.0 310.2 L615.3 310.5 L616.5 310.8 L617.8 311.2 L619.1 311.6 L620.3 312.1 L621.6 312.6 L622.9 313.0 L624.1 313.5 L625.4 313.9 L626.6 314.4 L627.9 314.8 L629.1 315.3 L630.3 315.8 L631.6 316.3 L632.8 316.8 L634.1 317.2 L635.3 317.7 L636.6 318.0 L637.8 318.4 L639.1 318.7 L640.4 319.1 L641.7 319.4 L643.0 319.8 L644.3 320.1 L645.6 320.4 L646.9 320.6 L648.2 320.7 L649.5 320.8 L650.9 320.8 L652.2 320.6 L653.5 320.4 L654.8 320.1 L656.0 319.6 L657.3 319.0 L658.4 318.3 L659.5 317.5 L660.4 316.7 L661.3 315.8 L662.1 314.8 L662.9 313.8 L663.7 312.6 L664.4 311.5 L665.1 310.3 L665.8 309.1 L666.5 307.9 L667.1 306.8 L667.8 305.6 L668.4 304.4 L668.9 303.3 L669.5 302.1 L670.1 300.9 L670.6 299.6 L671.1 298.4 L671.6 297.2 L672.1 295.9 L672.6 294.7 L673.1 293.5 L673.6 292.2 L674.1 291.0 L674.6 289.8 L675.1 288.5 L675.5 287.3 L676.0 286.1 L676.5 284.8 L676.9 283.6 L677.3 282.3 L677.8 281.1 L678.2 279.8 L678.6 278.6 L679.1 277.3 L679.5 276.0 L679.9 274.8 L680.3 273.5 L680.8 272.3 L681.2 271.0 L681.6 269.7 L682.0 268.5 L682.4 267.2 L682.8 266.0 L683.2 264.7 L683.6 263.4 L684.0 262.2 L684.4 260.9 L684.8 259.6 L685.2 258.4 L685.6 257.1 L686.0 255.8 L686.3 254.6 L686.7 253.3 L687.1 252.0 L687.5 250.8 L687.9 249.5 L688.3 248.2 L688.7 247.0 L689.0 245.7 L689.4 244.4 L689.8 243.2 L690.2 241.9 L690.6 240.6 L690.9 239.3 L691.3 238.1 L691.7 236.8 L692.1 235.5 L692.4 234.3 L692.8 233.0 L693.2 231.7 L693.6 230.4 L694.0 229.2 L694.4 227.9 L694.8 226.7 L695.2 225.4 L695.6 224.1 L696.0 222.9 L696.4 221.6 L696.8 220.3 L697.2 219.1 L697.6 217.8 L698.0 216.5 L698.5 215.3 L698.9 214.0 L699.3 212.7 L699.8 211.5 L700.2 210.2 L700.7 209.0 L701.2 207.8 L701.8 206.6 L702.3 205.4 L702.9 204.2 L703.5 203.0 L704.1 201.7 L704.7 200.5 L705.4 199.2 L706.1 198.0 L706.8 196.8 L707.6 195.8 L708.4 194.8 L709.3 194.0 L710.3 193.3 L711.4 192.7 L712.7 192.1 L714.1 191.8 L715.4 191.9 L716.7 192.1 L718.1 192.6 L719.1 193.1 L720.0 193.7 L720.9 194.6 L721.6 195.7 L722.4 196.9 L723.0 198.2 L723.7 199.5 L724.3 200.8 L724.8 202.1 L725.3 203.3 L725.9 204.5 L726.3 205.7 L726.8 207.0 L727.2 208.2 L727.7 209.5 L728.1 210.7 L728.5 212.0 L728.8 213.3 L729.2 214.6 L729.6 215.9 L729.9 217.2 L730.2 218.4 L730.6 219.7 L730.9 221.0 L731.2 222.3 L731.5 223.6 L731.8 224.9 L732.1 226.1 L732.4 227.4 L732.7 228.7 L732.9 230.0 L733.2 231.3 L733.5 232.6 L733.7 233.9 L734.0 235.2 L734.3 236.5 L734.5 237.8 L734.8 239.1 L735.1 240.4 L735.4 241.7 L735.6 243.0 L735.9 244.3 L736.2 245.6 L736.4 246.9 L736.7 248.2 L737.0 249.5 L737.2 250.8 L737.5 252.1 L737.8 253.4 L738.0 254.7 L738.3 256.0 L738.5 257.3 L738.8 258.6 L739.0 259.9 L739.3 261.2 L739.5 262.5 L739.8 263.8 L740.0 265.1 L740.3 266.4 L740.5 267.7 L740.7 269.0 L741.0 270.3 L741.2 271.6 L741.5 272.9 L741.7 274.2 L741.9 275.6 L742.1 276.9 L742.4 278.2 L742.6 279.5 L742.8 280.8 L743.0 282.1 L743.2 283.4 L743.4 284.7 L743.6 286.0 L743.8 287.3 L744.0 288.6 L744.2 289.9 L744.4 291.3 L744.6 292.6 L744.8 293.9 L745.0 295.2 L745.2 296.5 L745.4 297.8 L745.6 299.1 L745.7 300.4 L745.9 301.7 L746.1 303.1 L746.3 304.4 L746.5 305.7 L746.7 307.0 L746.8 308.3 L747.0 309.6 L747.2 310.9 L747.4 312.3 L747.6 313.6 L747.8 314.9 L747.9 316.2 L748.1 317.5 L748.3 318.8 L748.5 320.1 L748.7 321.4 L748.9 322.7 L749.1 324.1 L749.3 325.4 L749.5 326.7 L749.7 328.0 L749.9 329.3 L750.1 330.6 L750.3 331.9 L750.5 333.2 L750.7 334.5 L751.0 335.8 L751.2 337.1 L751.4 338.4 L751.6 339.8 L751.8 341.1 L752.1 342.4 L752.3 343.7 L752.5 345.0 L752.8 346.3 L753.0 347.6 L753.2 348.9 L753.4 350.2 L753.7 351.5 L753.9 352.8 L754.2 354.1 L754.4 355.4 L754.6 356.7 L754.9 358.0 L755.1 359.3 L755.3 360.6 L755.6 361.9 L755.8 363.2 L756.0 364.5 L756.3 365.8 L756.5 367.1 L756.8 368.5 L757.0 369.8 L757.2 371.1 L757.5 372.4 L757.7 373.7 L757.9 375.0 L758.1 376.3 L758.4 377.6 L758.6 378.9 L758.8 380.2 L759.1 381.5 L759.3 382.8 L759.5 384.1 L759.7 385.4 L759.9 386.7 L760.2 388.0 L760.4 389.3 L760.6 390.7 L760.8 392.0 L761.0 393.3 L761.2 394.6 L761.4 395.9 L761.6 397.2 L761.8 398.5 L762.1 399.8 L762.3 401.1 L762.5 402.4 L762.7 403.7 L762.9 405.1 L763.1 406.4 L763.3 407.7 L763.6 409.0 L763.8 410.3 L764.0 411.6 L764.2 412.9 L764.5 414.2 L764.7 415.5 L764.9 416.8 L765.2 418.1 L765.4 419.4 L765.7 420.7 L765.9 422.0 L766.2 423.3 L766.4 424.6 L766.7 425.9 L767.0 427.2 L767.2 428.5 L767.5 429.8 L767.8 431.1 L768.1 432.4 L768.4 433.7 L768.7 435.0 L769.1 436.2 L769.4 437.5 L769.7 438.8 L770.0 440.1 L770.4 441.4 L770.7 442.7 L771.0 443.9 L771.4 445.2 L771.7 446.5 L772.1 447.8 L772.4 449.1 L772.8 450.3 L773.2 451.6 L773.6 452.9 L773.9 454.1 L774.3 455.4 L774.7 456.7 L775.1 457.9 L775.6 459.2 L776.0 460.4 L776.4 461.7 L776.8 462.9 L777.3 464.2 L777.7 465.5 L778.2 466.7 L778.6 467.9 L779.1 469.2 L779.6 470.4 L780.1 471.7 L780.6 472.9 L781.1 474.1 L781.6 475.3 L782.1 476.6 L782.6 477.8 L783.1 479.0 L783.7 480.2 L784.2 481.4 L784.8 482.6 L785.3 483.8 L785.9 485.0 L786.5 486.2 L787.1 487.4 L787.7 488.6 L788.4 489.8 L789.0 490.9 L789.7 492.0 L790.4 493.1 L791.1 494.2 L791.9 495.3 L792.6 496.4 L793.4 497.5 L794.3 498.5 L795.1 499.6 L796.0 500.6 L796.8 501.6 L797.7 502.6 L798.6 503.6 L799.5 504.5 L800.4 505.4 L801.4 506.4 L802.4 507.3 L803.3 508.2 L804.4 509.1 L805.4 509.9 L806.4 510.8 L807.5 511.6 L808.5 512.4 L809.6 513.2 L810.7 513.9 L811.8 514.6 L813.0 515.3 L814.1 515.9 L815.2 516.5 L816.4 517.1 L817.6 517.7 L818.8 518.2 L820.0 518.8 L821.2 519.3 L822.5 519.8 L823.7 520.3 L825.0 520.7 L826.3 521.1 L827.6 521.5" stroke="#000000" stroke-width="1.3"/>
<path d="M59.0 265.6 L61.4 265.6 L63.8 265.6 L66.1 265.6 L68.5 265.6 L70.9 265.6 L73.3 265.6 L75.7 265.6 L78.1 265.6 L80.4 265.6 L82.8 265.6 L85.2 265.6 L87.6 265.6 L90.0 265.6 L92.3 265.6 L94.7 265.6 L97.1 265.6 L99.5 265.6 L101.9 265.6 L104.3 265.6 L106.6 265.6 L109.0 265.6 L111.4 265.6 L113.8 265.6 L116.2 265.6 L118.6 265.6 L120.9 265.6 L123.3 265.6 L125.7 265.6 L128.1 265.6 L130.5 265.6 L132.8 265.6 L135.2 265.6 L137.6 265.6 L140.0 265.6 L142.4 265.6 L144.8 265.6 L147.1 265.6 L149.5 265.6 L151.9 265.6 L154.3 265.6 L156.7 265.6 L159.0 265.6 L161.4 265.6 L163.8 265.6 L166.2 265.6 L168.6 265.6 L171.0 265.6 L173.3 265.6 L175.7 265.6 L178.1 265.6 L180.5 265.6 L182.9 265.6 L185.3 265.6 L187.6 265.6 L190.0 265.6 L192.4 265.7 L194.8 265.7 L197.2 265.7 L199.6 265.7 L201.9 265.7 L204.3 265.7 L206.7 265.7 L209.1 265.7 L211.5 265.7 L213.8 265.7 L216.2 265.7 L218.6 265.7 L221.0 265.7 L223.4 265.8 L225.8 265.8 L228.1 265.8 L230.5 265.8 L232.9 265.8 L235.3 265.8 L237.7 265.8 L240.0 265.8 L242.4 265.9 L244.8 265.9 L247.2 265.9 L249.6 265.9 L251.9 265.9 L254.3 266.0 L256.7 266.0 L259.1 266.1 L261.5 266.1 L263.9 266.2 L266.2 266.3 L268.6 266.4 L271.0 266.5 L273.4 266.6 L275.8 266.8 L278.1 266.9 L280.5 267.0 L282.9 267.2 L285.3 267.3 L287.7 267.4 L290.0 267.6 L292.4 267.7 L294.8 267.9 L297.2 268.0 L299.5 268.2 L301.9 268.3 L304.3 268.5 L306.7 268.7 L309.0 268.9 L311.4 269.2 L313.8 269.4 L316.2 269.7 L318.5 269.9 L320.9 270.2 L323.3 270.4 L325.7 270.7 L328.0 270.9 L330.4 271.0 L332.8 271.2 L335.2 271.3 L337.5 271.4 L339.9 271.4 L342.3 271.3 L344.7 271.2 L347.0 271.0 L349.4 270.8 L351.8 270.5 L354.1 270.0 L356.4 269.5 L358.7 268.8 L360.9 267.9 L363.1 266.9 L365.1 265.6 L367.1 264.3 L369.2 263.1 L371.3 262.0 L373.5 261.0 L375.8 260.6 L378.2 260.4 L380.6 260.4 L382.9 260.7 L385.3 261.3 L387.6 261.8 L389.9 262.4 L392.2 263.1 L394.5 263.8 L396.8 264.5 L399.1 265.1 L401.4 265.8 L403.6 266.4 L405.9 267.0 L408.3 267.6 L410.6 268.2 L412.9 268.9 L415.2 269.5 L417.5 270.1 L419.8 270.7 L422.0 271.4 L424.3 272.1 L426.6 272.8 L428.9 273.5 L431.2 274.1 L433.5 274.8 L435.8 275.4 L438.1 275.9 L440.4 276.4 L442.7 276.9 L445.1 277.4 L447.4 277.8 L449.8 278.2 L452.1 278.6 L454.5 279.0 L456.8 279.4 L459.2 279.8 L461.5 280.3 L463.8 280.8 L466.2 281.3 L468.5 281.8 L470.8 282.4 L473.1 283.0 L475.4 283.6 L477.7 284.2 L480.0 284.8 L482.3 285.5 L484.6 286.1 L486.9 286.7 L489.2 287.3 L491.5 287.9 L493.8 288.5 L496.1 289.0 L498.5 289.6 L500.8 290.2 L503.1 290.7 L505.4 291.3 L507.7 291.8 L510.0 292.4 L512.4 292.9 L514.7 293.4 L517.0 293.9 L519.3 294.4 L521.7 294.9 L524.0 295.4 L526.3 295.9 L528.7 296.4 L531.0 296.8 L533.4 297.3 L535.7 297.7 L538.0 298.1 L540.4 298.6 L542.7 299.0 L545.1 299.4 L547.4 299.8 L549.8 300.2 L552.1 300.5 L554.5 300.9 L556.8 301.3 L559.2 301.6 L561.5 302.0 L563.9 302.3 L566.3 302.7 L568.6 303.0 L571.0 303.4 L573.3 303.7 L575.7 304.1 L578.0 304.4 L580.4 304.7 L582.8 305.1 L585.1 305.4 L587.5 305.7 L589.8 306.0 L592.2 306.3 L594.6 306.5 L597.0 306.7 L599.4 306.9 L601.7 307.2 L604.1 307.4 L606.5 307.6 L608.8 307.9 L611.2 308.3 L613.5 308.7 L615.8 309.3 L618.1 310.0 L620.3 310.8 L622.6 311.7 L624.8 312.4 L627.1 313.2 L629.3 314.0 L631.6 314.8 L633.9 315.5 L636.2 316.2 L638.5 316.7 L640.8 317.3 L643.2 317.7 L645.5 317.8 L647.9 317.8 L650.4 317.7 L652.7 317.6 L655.0 317.4 L657.3 316.5 L659.4 315.2 L661.4 313.6 L662.9 312.0 L664.2 310.3 L665.3 308.3 L666.4 306.1 L667.3 303.8 L668.2 301.4 L669.1 299.1 L670.1 296.8 L671.0 294.7 L672.0 292.5 L673.0 290.3 L673.9 288.1 L674.8 285.9 L675.7 283.7 L676.5 281.5 L677.3 279.2 L678.0 277.0 L678.7 274.7 L679.4 272.4 L680.0 270.1 L680.6 267.8 L681.3 265.5 L681.9 263.2 L682.5 260.9 L683.1 258.6 L683.7 256.3 L684.3 254.0 L684.9 251.7 L685.5 249.4 L686.1 247.0 L686.7 244.7 L687.3 242.4 L687.9 240.1 L688.4 237.8 L689.0 235.5 L689.5 233.2 L690.0 230.8 L690.4 228.5 L690.9 226.2 L691.4 223.8 L691.8 221.5 L692.3 219.1 L692.8 216.8 L693.3 214.5 L693.9 212.2 L694.5 209.9 L695.1 207.6 L695.7 205.3 L696.3 203.0 L697.0 200.7 L697.6 198.4 L698.2 196.1 L698.8 193.8 L699.4 191.5 L699.9 189.1 L700.4 186.8 L700.9 184.5 L701.4 182.1 L701.9 179.8 L702.5 177.5 L703.1 175.2 L703.7 172.9 L704.4 170.6 L705.2 168.4 L706.1 166.2 L706.9 163.9 L707.8 161.7 L708.6 159.4 L709.4 157.2 L710.2 154.9 L711.2 152.8 L712.3 150.7 L713.6 148.6 L715.1 146.9 L717.1 145.2 L719.2 144.5 L721.4 145.3 L723.5 146.8 L725.1 148.4 L726.5 150.4 L727.5 152.6 L728.4 154.7 L729.1 157.0 L729.8 159.3 L730.4 161.6 L731.0 164.0 L731.6 166.3 L732.2 168.6 L732.8 170.9 L733.4 173.2 L734.0 175.5 L734.5 177.8 L735.0 180.2 L735.6 182.5 L736.1 184.8 L736.7 187.1 L737.2 189.5 L737.7 191.8 L738.2 194.1 L738.6 196.5 L739.0 198.8 L739.4 201.1 L739.8 203.5 L740.2 205.8 L740.5 208.2 L740.8 210.6 L741.2 212.9 L741.5 215.3 L741.8 217.6 L742.1 220.0 L742.5 222.4 L742.8 224.7 L743.1 227.1 L743.5 229.4 L743.8 231.8 L744.1 234.2 L744.4 236.5 L744.8 238.9 L745.1 241.2 L745.4 243.6 L745.7 246.0 L746.1 248.3 L746.4 250.7 L746.7 253.0 L747.1 255.4 L747.4 257.8 L747.8 260.1 L748.1 262.5 L748.5 264.8 L748.8 267.2 L749.2 269.5 L749.5 271.9 L749.9 274.2 L750.2 276.6 L750.6 279.0 L750.9 281.3 L751.3 283.7 L751.7 286.0 L752.0 288.4 L752.4 290.7 L752.7 293.1 L753.1 295.4 L753.4 297.8 L753.8 300.2 L754.1 302.5 L754.5 304.9 L754.8 307.2 L755.2 309.6 L755.5 311.9 L755.9 314.3 L756.2 316.7 L756.5 319.0 L756.8 321.4 L757.1 323.7 L757.4 326.1 L757.7 328.5 L758.0 330.8 L758.3 333.2 L758.6 335.6 L758.9 337.9 L759.2 340.3 L759.5 342.7 L759.8 345.0 L760.1 347.4 L760.4 349.8 L760.7 352.1 L761.0 354.5 L761.3 356.8 L761.6 359.2 L762.0 361.5 L762.3 363.9 L762.7 366.3 L763.1 368.6 L763.5 371.0 L763.9 373.3 L764.3 375.6 L764.7 378.0 L765.2 380.3 L765.6 382.7 L766.0 385.0 L766.5 387.4 L766.9 389.7 L767.4 392.0 L767.8 394.4 L768.2 396.7 L768.6 399.1 L769.0 401.4 L769.4 403.8 L769.8 406.1 L770.1 408.5 L770.5 410.8 L770.9 413.2 L771.3 415.6 L771.6 417.9 L772.1 420.2 L772.5 422.6 L773.0 424.9 L773.5 427.2 L774.1 429.6 L774.6 431.9 L775.2 434.2 L775.8 436.5 L776.4 438.8 L777.1 441.1 L777.8 443.4 L778.4 445.6 L779.2 447.9 L779.9 450.2 L780.7 452.4 L781.5 454.7 L782.3 456.9 L783.1 459.1 L784.0 461.4 L784.9 463.6 L785.8 465.8 L786.7 468.0 L787.7 470.2 L788.7 472.3 L789.7 474.5 L790.8 476.6 L791.8 478.8 L792.9 480.9 L794.0 483.1 L795.2 485.2 L796.4 487.3 L797.7 489.3 L799.0 491.2 L800.4 493.0 L802.0 494.8 L803.6 496.5 L805.4 498.2 L807.2 499.8 L809.1 501.3 L811.0 502.7 L812.9 504.1 L814.9 505.4 L816.9 506.6 L818.9 507.8 L821.0 509.0 L823.2 510.0 L825.4 511.1 L827.6 512.0" stroke="#ff0000" stroke-width="2" stroke-dasharray="2.3 4.75"/>
<path d="M59.0 263.3 L59.9 263.3 L60.8 263.2 L61.8 263.2 L62.7 263.2 L63.6 263.1 L64.5 263.1 L65.4 263.1 L66.4 263.0 L67.3 263.0 L68.2 263.0 L69.1 262.9 L70.0 262.9 L71.0 262.9 L71.9 262.9 L72.8 262.8 L73.7 262.8 L74.6 262.8 L75.6 262.8 L76.5 262.7 L77.4 262.7 L78.3 262.7 L79.2 262.6 L80.2 262.6 L81.1 262.6 L82.0 262.6 L82.9 262.6 L83.8 262.5 L84.8 262.5 L85.7 262.5 L86.6 262.5 L87.5 262.4 L88.4 262.4 L89.4 262.4 L90.3 262.4 L91.2 262.3 L92.1 262.3 L93.0 262.3 L94.0 262.3 L94.9 262.2 L95.8 262.2 L96.7 262.2 L97.6 262.2 L98.6 262.2 L99.5 262.2 L100.4 262.1 L101.3 262.1 L102.2 262.1 L103.2 262.1 L104.1 262.1 L105.0 262.1 L105.9 262.0 L106.8 262.0 L107.8 262.0 L108.7 262.0 L109.6 262.0 L110.5 262.0 L111.4 262.0 L112.4 262.0 L113.3 262.0 L114.2 262.0 L115.1 262.0 L116.0 262.0 L117.0 262.1 L117.9 262.1 L118.8 262.1 L119.7 262.2 L120.6 262.2 L121.6 262.3 L122.5 262.3 L123.4 262.4 L124.3 262.4 L125.2 262.5 L126.2 262.6 L127.1 262.6 L128.0 262.7 L128.9 262.7 L129.8 262.8 L130.7 262.8 L131.7 262.9 L132.6 263.0 L133.5 263.0 L134.4 263.1 L135.3 263.1 L136.3 263.2 L137.2 263.2 L138.1 263.3 L139.0 263.3 L139.9 263.3 L140.9 263.4 L141.8 263.4 L142.7 263.4 L143.6 263.4 L144.5 263.5 L145.4 263.5 L146.4 263.5 L147.3 263.5 L148.2 263.6 L149.1 263.6 L150.0 263.6 L151.0 263.6 L151.9 263.7 L152.8 263.7 L153.7 263.7 L154.6 263.8 L155.5 263.8 L156.5 263.9 L157.4 264.0 L158.3 264.1 L159.2 264.1 L160.1 264.2 L161.0 264.3 L162.0 264.4 L162.9 264.6 L163.8 264.7 L164.7 264.8 L165.6 264.9 L166.5 265.0 L167.5 265.2 L168.4 265.3 L169.3 265.4 L170.2 265.5 L171.1 265.7 L172.1 265.8 L173.0 265.9 L173.9 266.0 L174.8 266.1 L175.7 266.1 L176.6 266.2 L177.6 266.3 L178.5 266.3 L179.4 266.4 L180.3 266.4 L181.2 266.4 L182.2 266.5 L183.1 266.5 L184.0 266.5 L184.9 266.5 L185.8 266.6 L186.8 266.6 L187.7 266.6 L188.6 266.6 L189.5 266.6 L190.4 266.7 L191.4 266.7 L192.3 266.7 L193.2 266.7 L194.1 266.8 L195.0 266.8 L195.9 266.8 L196.9 266.9 L197.8 266.9 L198.7 267.0 L199.6 267.1 L200.5 267.1 L201.4 267.2 L202.3 267.4 L203.2 267.5 L204.1 267.7 L205.0 267.9 L205.9 268.2 L206.8 268.4 L207.7 268.7 L208.6 269.0 L209.5 269.4 L210.4 269.7 L211.3 270.0 L212.2 270.3 L213.1 270.7 L214.0 271.0 L214.9 271.3 L215.8 271.5 L216.7 271.8 L217.6 272.0 L218.5 272.2 L219.4 272.4 L220.3 272.5 L221.2 272.6 L222.1 272.8 L223.0 272.9 L223.9 272.9 L224.8 273.0 L225.7 273.1 L226.5 273.2 L227.4 273.3 L228.3 273.4 L229.2 273.5 L230.1 273.6 L231.0 273.8 L231.9 273.9 L232.7 274.2 L233.6 274.4 L234.5 274.7 L235.4 275.0 L236.3 275.3 L237.1 275.7 L238.0 276.1 L238.9 276.5 L239.8 277.0 L240.6 277.4 L241.5 277.9 L242.4 278.4 L243.3 278.8 L244.2 279.2 L245.0 279.6 L245.9 280.0 L246.8 280.4 L247.7 280.7 L248.6 281.0 L249.4 281.3 L250.3 281.5 L251.2 281.7 L252.1 281.8 L253.0 281.9 L253.9 282.0 L254.8 282.1 L255.7 282.2 L256.6 282.3 L257.5 282.4 L258.4 282.5 L259.3 282.6 L260.2 282.7 L261.1 282.8 L262.0 282.9 L262.9 283.1 L263.8 283.3 L264.7 283.5 L265.6 283.8 L266.4 284.1 L267.3 284.4 L268.2 284.8 L269.1 285.1 L270.0 285.6 L270.8 286.0 L271.7 286.5 L272.6 286.9 L273.4 287.4 L274.3 287.9 L275.1 288.4 L276.0 288.9 L276.8 289.3 L277.7 289.8 L278.5 290.2 L279.3 290.6 L280.1 290.9 L281.0 291.2 L281.8 291.4 L282.6 291.7 L283.4 291.8 L284.2 292.0 L285.0 292.2 L285.8 292.3 L286.6 292.5 L287.4 292.7 L288.2 292.9 L289.0 293.2 L289.8 293.5 L290.6 293.9 L291.4 294.4 L292.2 294.9 L293.0 295.5 L293.8 296.2 L294.6 296.9 L295.4 297.6 L296.2 298.4 L296.9 299.2 L297.7 300.0 L298.5 300.8 L299.3 301.5 L300.1 302.3 L300.9 303.0 L301.7 303.6 L302.5 304.2 L303.3 304.8 L304.0 305.3 L304.8 305.7 L305.6 306.1 L306.4 306.4 L307.2 306.7 L308.0 306.9 L308.7 307.1 L309.5 307.3 L310.3 307.4 L311.1 307.6 L311.8 307.8 L312.6 308.1 L313.4 308.3 L314.2 308.7 L314.9 309.1 L315.7 309.6 L316.5 310.1 L317.2 310.7 L318.0 311.4 L318.8 312.1 L319.5 312.9 L320.3 313.7 L321.0 314.6 L321.8 315.4 L322.6 316.3 L323.3 317.1 L324.1 317.9 L324.8 318.7 L325.6 319.4 L326.3 320.1 L327.1 320.7 L327.8 321.2 L328.5 321.7 L329.3 322.0 L330.0 322.4 L330.7 322.6 L331.4 322.9 L332.2 323.1 L332.9 323.3 L333.6 323.5 L334.3 323.7 L335.0 324.0 L335.8 324.3 L336.5 324.7 L337.2 325.2 L337.9 325.7 L338.6 326.3 L339.4 327.0 L340.1 327.8 L340.8 328.6 L341.5 329.5 L342.2 330.4 L342.9 331.4 L343.7 332.3 L344.4 333.3 L345.1 334.2 L345.8 335.0 L346.6 335.8 L347.3 336.5 L348.0 337.1 L348.7 337.6 L349.5 338.1 L350.2 338.5 L351.0 338.8 L351.7 339.0 L352.5 339.2 L353.2 339.4 L354.0 339.6 L354.7 339.8 L355.5 340.0 L356.2 340.3 L357.0 340.7 L357.7 341.1 L358.5 341.6 L359.2 342.1 L360.0 342.8 L360.7 343.5 L361.5 344.3 L362.2 345.2 L363.0 346.1 L363.7 347.0 L364.5 347.8 L365.3 348.7 L366.1 349.4 L366.8 350.1 L367.6 350.8 L368.4 351.4 L369.1 351.9 L369.9 352.3 L370.6 352.6 L371.3 352.9 L372.0 353.2 L372.7 353.4 L373.4 353.6 L374.1 353.8 L374.7 354.0 L375.3 354.3 L375.9 354.6 L376.5 355.0 L377.0 355.4 L377.6 356.0 L378.1 356.7 L378.6 357.5 L379.1 358.4 L379.6 359.4 L380.1 360.6 L380.6 361.8 L381.1 363.0 L381.6 364.3 L382.0 365.7 L382.5 367.0 L383.0 368.3 L383.5 369.5 L384.0 370.7 L384.5 371.8 L385.0 372.9 L385.5 373.8 L386.0 374.6 L386.5 375.2 L387.1 375.8 L387.6 376.2 L388.2 376.6 L388.8 376.9 L389.5 377.2 L390.1 377.4 L390.8 377.7 L391.4 377.9 L392.0 378.1 L392.6 378.4 L393.2 378.6 L393.8 378.9 L394.3 379.3 L394.8 379.8 L395.3 380.5 L395.8 381.2 L396.2 382.0 L396.7 383.0 L397.2 384.1 L397.6 385.3 L398.1 386.5 L398.5 387.8 L399.0 389.1 L399.4 390.4 L399.9 391.7 L400.4 393.0 L400.8 394.3 L401.3 395.6 L401.7 396.8 L402.2 397.9 L402.6 398.9 L403.1 399.8 L403.6 400.7 L404.0 401.4 L404.5 402.0 L405.0 402.5 L405.5 402.9 L406.0 403.3 L406.5 403.5 L407.0 403.8 L407.6 404.0 L408.2 404.3 L408.8 404.5 L409.4 404.8 L410.0 405.2 L410.6 405.6 L411.2 406.0 L411.7 406.5 L412.2 407.1 L412.7 407.7 L413.2 408.5 L413.6 409.4 L414.0 410.4 L414.4 411.6 L414.8 412.9 L415.2 414.2 L415.6 415.6 L416.0 417.0 L416.4 418.3 L416.8 419.6 L417.3 420.8 L417.8 421.9 L418.3 422.9 L418.8 423.8 L419.3 424.6 L419.8 425.4 L420.4 426.0 L421.0 426.6 L421.5 427.1 L422.1 427.5 L422.7 427.8 L423.2 428.1 L423.8 428.4 L424.3 428.6 L424.9 428.9 L425.4 429.2 L425.9 429.6 L426.4 430.0 L426.9 430.6 L427.4 431.2 L427.9 432.0 L428.4 432.8 L429.0 433.8 L429.5 434.9 L430.0 436.0 L430.5 437.2 L431.0 438.4 L431.5 439.7 L432.0 440.9 L432.5 442.2 L433.1 443.4 L433.6 444.5 L434.1 445.5 L434.6 446.5 L435.1 447.4 L435.6 448.1 L436.2 448.8 L436.7 449.3 L437.2 449.7 L437.7 450.1 L438.2 450.4 L438.7 450.7 L439.3 451.0 L439.8 451.3 L440.3 451.6 L440.8 451.9 L441.3 452.4 L441.8 452.9 L442.3 453.5 L442.8 454.2 L443.4 455.1 L443.9 456.0 L444.4 457.0 L444.9 458.2 L445.4 459.4 L445.9 460.6 L446.4 461.9 L446.9 463.2 L447.4 464.4 L447.9 465.6 L448.4 466.7 L448.9 467.8 L449.4 468.7 L449.9 469.6 L450.4 470.3 L450.9 470.9 L451.4 471.5 L451.9 471.9 L452.4 472.2 L452.9 472.6 L453.4 472.8 L453.9 473.1 L454.5 473.4 L455.0 473.7 L455.5 474.1 L456.0 474.6 L456.5 475.2 L457.1 475.9 L457.6 476.7 L458.1 477.6 L458.6 478.7 L459.2 479.8 L459.7 481.0 L460.2 482.2 L460.7 483.4 L461.3 484.7 L461.8 485.9 L462.3 487.0 L462.9 488.0 L463.4 488.9 L464.0 489.7 L464.5 490.4 L465.1 491.0 L465.6 491.4 L466.2 491.8 L466.7 492.1 L467.3 492.4 L467.8 492.6 L468.4 492.9 L469.0 493.2 L469.5 493.7 L470.1 494.2 L470.7 494.8 L471.3 495.6 L471.8 496.5 L472.4 497.4 L473.0 498.5 L473.6 499.7 L474.2 500.8 L474.8 502.0 L475.4 503.1 L476.0 504.1 L476.6 505.1 L477.2 505.9 L477.8 506.6 L478.4 507.1 L479.0 507.5 L479.6 507.9 L480.2 508.2 L480.9 508.4 L481.5 508.6 L482.1 508.9 L482.7 509.3 L483.4 509.8 L484.0 510.4 L484.6 511.1 L485.3 512.0 L485.9 513.0 L486.6 514.0 L487.2 515.1 L487.9 516.1 L488.5 517.2 L489.2 518.1 L489.9 518.8 L490.5 519.5 L491.2 520.0 L491.9 520.4 L492.6 520.6 L493.3 520.9 L494.0 521.1 L494.8 521.3 L495.5 521.6 L496.2 522.0 L497.0 522.5 L497.7 523.2 L498.5 524.0 L499.2 524.8 L500.0 525.6 L500.8 526.5 L501.5 527.2 L502.3 527.9 L503.1 528.4 L503.9 528.8 L504.6 529.1 L505.4 529.3 L506.2 529.5 L507.0 529.6 L507.8 529.9 L508.7 530.2 L509.5 530.6 L510.3 531.1 L511.1 531.7 L512.0 532.4 L512.8 533.0 L513.6 533.6 L514.5 534.2 L515.3 534.6 L516.1 534.9 L517.0 535.1 L517.8 535.3 L518.7 535.4 L519.5 535.6 L520.4 535.8 L521.2 536.1 L522.1 536.5 L522.9 537.0 L523.8 537.5 L524.6 538.1 L525.5 538.6 L526.3 539.1 L527.2 539.4 L528.1 539.7 L528.9 539.9 L529.8 540.0 L530.7 540.1 L531.5 540.2 L532.4 540.5 L533.3 540.8 L534.1 541.1 L535.0 541.6 L535.9 542.0 L536.8 542.4 L537.7 542.8 L538.5 543.1 L539.4 543.3 L540.3 543.4 L541.2 543.6 L542.1 543.7 L543.0 543.8 L543.9 543.9 L544.8 544.1 L545.7 544.3 L546.6 544.6 L547.5 544.8 L548.4 545.0 L549.3 545.2 L550.3 545.3 L551.2 545.4 L552.1 545.5 L553.0 545.6 L553.9 545.7 L554.8 545.8 L555.7 545.8 L556.6 545.9 L557.6 546.0 L558.5 546.1 L559.4 546.1 L560.3 546.2 L561.2 546.2 L562.2 546.3 L563.1 546.3 L564.0 546.4 L564.9 546.4 L565.8 546.4 L566.8 546.5 L567.7 546.5 L568.6 546.5 L569.5 546.6 L570.4 546.6 L571.4 546.6 L572.3 546.7 L573.2 546.7 L574.1 546.7 L575.0 546.8 L576.0 546.8 L576.9 546.8 L577.8 546.8 L578.7 546.9 L579.6 546.9 L580.6 546.9 L581.5 546.9 L582.4 546.9 L583.3 547.0 L584.2 547.0 L585.2 547.0 L586.1 547.0 L587.0 547.0" stroke="#ff0000" stroke-width="1.3"/>
<path d="M59.0 546.0 L60.0 546.0 L61.1 545.9 L62.1 545.9 L63.2 545.8 L64.2 545.8 L65.3 545.8 L66.3 545.7 L67.4 545.7 L68.4 545.6 L69.4 545.6 L70.5 545.5 L71.5 545.5 L72.6 545.5 L73.6 545.4 L74.7 545.4 L75.7 545.3 L76.8 545.3 L77.8 545.2 L78.8 545.2 L79.9 545.1 L80.9 545.1 L82.0 545.0 L83.0 545.0 L84.1 544.9 L85.1 544.8 L86.2 544.8 L87.2 544.7 L88.2 544.7 L89.3 544.6 L90.3 544.6 L91.4 544.5 L92.4 544.4 L93.5 544.4 L94.5 544.3 L95.5 544.3 L96.6 544.2 L97.6 544.2 L98.7 544.1 L99.7 544.0 L100.8 544.0 L101.8 543.9 L102.8 543.9 L103.9 543.8 L104.9 543.8 L106.0 543.7 L107.0 543.7 L108.1 543.6 L109.1 543.5 L110.1 543.5 L111.2 543.4 L112.2 543.3 L113.3 543.3 L114.3 543.2 L115.4 543.1 L116.4 543.0 L117.4 542.9 L118.5 542.8 L119.5 542.7 L120.6 542.6 L121.6 542.5 L122.7 542.3 L123.7 542.2 L124.7 542.1 L125.8 542.0 L126.8 541.8 L127.9 541.7 L128.9 541.6 L130.0 541.5 L131.0 541.4 L132.0 541.2 L133.1 541.1 L134.1 541.0 L135.2 540.9 L136.2 540.9 L137.2 540.8 L138.3 540.7 L139.3 540.7 L140.4 540.6 L141.4 540.6 L142.4 540.6 L143.5 540.5 L144.5 540.5 L145.6 540.4 L146.6 540.4 L147.6 540.4 L148.7 540.3 L149.7 540.3 L150.8 540.2 L151.8 540.2 L152.8 540.1 L153.9 540.1 L154.9 540.0 L156.0 539.9 L157.0 539.8 L158.0 539.7 L159.1 539.5 L160.1 539.4 L161.1 539.2 L162.2 539.0 L163.2 538.9 L164.3 538.7 L165.3 538.4 L166.3 538.2 L167.4 538.0 L168.4 537.8 L169.4 537.6 L170.5 537.4 L171.5 537.2 L172.6 537.0 L173.6 536.8 L174.6 536.6 L175.7 536.4 L176.7 536.3 L177.7 536.2 L178.8 536.0 L179.8 535.9 L180.9 535.9 L181.9 535.8 L182.9 535.7 L184.0 535.6 L185.0 535.6 L186.1 535.5 L187.1 535.5 L188.1 535.4 L189.2 535.4 L190.2 535.3 L191.3 535.3 L192.3 535.2 L193.3 535.2 L194.4 535.1 L195.4 535.0 L196.4 534.9 L197.5 534.8 L198.5 534.7 L199.5 534.5 L200.5 534.3 L201.6 534.1 L202.6 533.9 L203.6 533.6 L204.6 533.3 L205.7 533.0 L206.7 532.6 L207.7 532.2 L208.7 531.8 L209.7 531.4 L210.7 531.0 L211.7 530.5 L212.8 530.1 L213.8 529.8 L214.8 529.4 L215.8 529.1 L216.8 528.8 L217.8 528.5 L218.8 528.3 L219.8 528.1 L220.8 527.9 L221.8 527.8 L222.8 527.7 L223.9 527.6 L224.9 527.5 L225.9 527.4 L226.9 527.3 L227.9 527.2 L228.9 527.0 L229.9 526.9 L230.9 526.7 L231.9 526.5 L232.9 526.3 L233.9 526.0 L234.9 525.7 L235.9 525.3 L236.9 524.9 L238.0 524.5 L239.0 524.1 L240.0 523.6 L241.0 523.1 L242.0 522.6 L243.0 522.1 L244.0 521.6 L245.0 521.2 L246.0 520.7 L247.0 520.3 L248.0 519.9 L249.0 519.5 L249.9 519.2 L250.9 518.9 L251.9 518.7 L252.9 518.5 L253.9 518.4 L254.9 518.2 L255.9 518.1 L256.9 518.0 L257.9 517.9 L258.9 517.7 L259.9 517.6 L260.9 517.4 L261.9 517.2 L262.9 516.9 L263.9 516.6 L264.9 516.3 L265.8 515.9 L266.8 515.4 L267.8 514.9 L268.8 514.4 L269.8 513.8 L270.7 513.2 L271.7 512.5 L272.7 511.9 L273.6 511.3 L274.6 510.6 L275.5 510.0 L276.5 509.5 L277.4 509.0 L278.4 508.5 L279.3 508.1 L280.3 507.7 L281.2 507.4 L282.1 507.2 L283.1 507.0 L284.0 506.8 L284.9 506.6 L285.9 506.4 L286.8 506.2 L287.7 506.0 L288.6 505.8 L289.6 505.4 L290.5 505.0 L291.4 504.5 L292.3 504.0 L293.2 503.3 L294.1 502.6 L295.0 501.9 L295.9 501.0 L296.8 500.2 L297.7 499.3 L298.6 498.4 L299.5 497.6 L300.4 496.7 L301.3 496.0 L302.2 495.2 L303.1 494.6 L304.0 494.0 L304.9 493.5 L305.7 493.1 L306.6 492.7 L307.5 492.4 L308.4 492.2 L309.3 491.9 L310.1 491.7 L311.0 491.5 L311.9 491.3 L312.7 491.0 L313.6 490.7 L314.5 490.2 L315.3 489.7 L316.2 489.1 L317.0 488.4 L317.9 487.7 L318.7 486.8 L319.6 485.9 L320.4 484.9 L321.3 483.9 L322.1 482.8 L323.0 481.8 L323.8 480.9 L324.6 479.9 L325.4 479.1 L326.3 478.3 L327.1 477.6 L327.9 477.0 L328.8 476.5 L329.6 476.1 L330.4 475.8 L331.2 475.5 L332.1 475.3 L332.9 475.0 L333.7 474.8 L334.5 474.5 L335.3 474.2 L336.2 473.8 L337.0 473.3 L337.8 472.7 L338.6 472.0 L339.4 471.2 L340.2 470.3 L341.0 469.3 L341.7 468.3 L342.5 467.1 L343.3 466.0 L344.1 464.8 L344.8 463.7 L345.6 462.6 L346.3 461.5 L347.1 460.5 L347.8 459.6 L348.6 458.8 L349.3 458.2 L350.0 457.6 L350.7 457.1 L351.4 456.6 L352.1 456.3 L352.8 456.0 L353.5 455.7 L354.2 455.4 L354.9 455.1 L355.5 454.8 L356.2 454.4 L356.9 453.9 L357.5 453.3 L358.2 452.6 L358.8 451.8 L359.4 450.9 L360.1 449.9 L360.7 448.7 L361.3 447.5 L361.9 446.2 L362.5 444.9 L363.0 443.5 L363.6 442.0 L364.1 440.5 L364.6 439.0 L365.1 437.5 L365.7 436.1 L366.2 434.9 L366.7 433.7 L367.2 432.7 L367.7 431.9 L368.3 431.2 L368.9 430.7 L369.5 430.2 L370.2 429.8 L370.8 429.5 L371.5 429.2 L372.2 428.9 L373.0 428.6 L373.7 428.3 L374.4 428.0 L375.2 427.7 L375.9 427.2 L376.6 426.7 L377.3 426.0 L378.0 425.3 L378.7 424.4 L379.4 423.4 L380.0 422.3 L380.6 421.1 L381.2 419.8 L381.8 418.4 L382.3 417.0 L382.9 415.5 L383.4 414.0 L383.9 412.6 L384.4 411.2 L384.9 410.0 L385.4 408.8 L386.0 407.9 L386.5 407.1 L387.1 406.4 L387.6 405.8 L388.2 405.3 L388.8 404.9 L389.4 404.5 L390.1 404.2 L390.7 403.9 L391.3 403.6 L392.0 403.3 L392.6 402.9 L393.3 402.5 L393.9 402.0 L394.6 401.3 L395.3 400.5 L395.9 399.6 L396.6 398.6 L397.3 397.5 L397.9 396.3 L398.6 395.0 L399.2 393.7 L399.9 392.3 L400.5 391.0 L401.2 389.7 L401.8 388.6 L402.5 387.5 L403.2 386.5 L403.8 385.7 L404.5 385.0 L405.2 384.4 L405.8 383.9 L406.5 383.5 L407.2 383.2 L407.8 382.9 L408.5 382.6 L409.1 382.3 L409.7 381.9 L410.4 381.5 L411.0 380.9 L411.6 380.3 L412.1 379.5 L412.7 378.7 L413.3 377.7 L413.8 376.5 L414.3 375.3 L414.8 373.9 L415.3 372.4 L415.8 370.9 L416.3 369.4 L416.8 367.9 L417.3 366.5 L417.8 365.1 L418.4 363.9 L418.9 362.8 L419.5 361.8 L420.0 361.0 L420.6 360.2 L421.2 359.6 L421.8 359.1 L422.3 358.7 L422.9 358.3 L423.5 358.0 L424.1 357.7 L424.7 357.4 L425.3 357.0 L426.0 356.6 L426.6 356.0 L427.2 355.3 L427.8 354.6 L428.4 353.6 L429.0 352.6 L429.6 351.4 L430.2 350.1 L430.8 348.7 L431.4 347.4 L432.0 345.9 L432.6 344.5 L433.2 343.2 L433.8 342.0 L434.4 340.8 L435.0 339.8 L435.6 339.0 L436.2 338.2 L436.8 337.6 L437.4 337.2 L438.0 336.8 L438.6 336.5 L439.2 336.2 L439.8 335.8 L440.4 335.5 L441.0 335.0 L441.7 334.5 L442.3 333.8 L442.9 333.0 L443.6 332.0 L444.2 330.9 L444.9 329.7 L445.6 328.4 L446.3 327.1 L447.0 325.9 L447.7 324.6 L448.4 323.5 L449.1 322.5 L449.8 321.7 L450.6 320.9 L451.3 320.4 L452.0 319.9 L452.7 319.6 L453.4 319.3 L454.1 319.0 L454.8 318.7 L455.5 318.3 L456.2 317.9 L456.9 317.2 L457.6 316.4 L458.2 315.4 L458.9 314.3 L459.5 313.1 L460.2 311.8 L460.9 310.4 L461.5 309.1 L462.2 307.8 L462.8 306.7 L463.4 305.7 L464.1 304.8 L464.7 304.1 L465.4 303.5 L466.0 303.0 L466.7 302.6 L467.3 302.3 L468.0 302.0 L468.6 301.6 L469.3 301.1 L469.9 300.6 L470.6 299.9 L471.2 299.0 L471.8 298.1 L472.5 296.9 L473.1 295.7 L473.8 294.5 L474.4 293.2 L475.1 292.0 L475.8 290.9 L476.5 289.9 L477.2 289.0 L477.9 288.4 L478.6 287.8 L479.4 287.4 L480.2 287.0 L480.9 286.6 L481.7 286.3 L482.4 285.8 L483.1 285.3 L483.8 284.7 L484.5 283.9 L485.2 282.9 L485.9 281.9 L486.6 280.7 L487.3 279.6 L488.0 278.5 L488.7 277.5 L489.5 276.6 L490.2 275.9 L491.0 275.2 L491.8 274.7 L492.6 274.3 L493.4 273.9 L494.2 273.5 L495.1 273.1 L495.9 272.6 L496.7 272.0 L497.6 271.4 L498.5 270.6 L499.3 269.8 L500.2 269.0 L501.1 268.2 L501.9 267.5 L502.8 266.8 L503.7 266.3 L504.6 265.9 L505.5 265.5 L506.4 265.2 L507.3 264.8 L508.2 264.4 L509.1 264.0 L510.0 263.4 L511.0 262.8 L511.9 262.2 L512.8 261.6 L513.8 261.0 L514.7 260.5 L515.6 260.0 L516.6 259.6 L517.5 259.3 L518.5 258.9 L519.4 258.6 L520.4 258.2 L521.3 257.8 L522.3 257.3 L523.2 256.8 L524.2 256.3 L525.1 255.8 L526.1 255.4 L527.1 255.0 L528.1 254.7 L529.0 254.4 L530.0 254.1 L531.0 253.9 L532.0 253.6 L533.0 253.3 L534.0 253.0 L535.0 252.7 L536.1 252.3 L537.1 252.0 L538.1 251.7 L539.1 251.4 L540.1 251.2 L541.1 250.9 L542.1 250.7 L543.1 250.4 L544.1 250.2 L545.1 249.9 L546.1 249.6 L547.2 249.3 L548.2 249.0 L549.2 248.8 L550.2 248.5 L551.2 248.3 L552.2 248.1 L553.2 247.8 L554.3 247.6 L555.3 247.4 L556.3 247.2 L557.3 247.0 L558.4 246.8 L559.4 246.6 L560.4 246.4 L561.4 246.2 L562.5 246.0 L563.5 245.8 L564.5 245.6 L565.6 245.4 L566.6 245.2 L567.6 245.0 L568.6 244.8 L569.7 244.7 L570.7 244.5 L571.7 244.3 L572.8 244.1 L573.8 244.0 L574.8 243.8 L575.9 243.6 L576.9 243.4 L577.9 243.2 L578.9 243.0 L580.0 242.8 L581.0 242.7 L582.0 242.5 L583.1 242.3 L584.1 242.1 L585.1 241.9 L586.1 241.7 L587.2 241.5 L588.2 241.2 L589.2 241.0 L590.2 240.7 L591.2 240.5 L592.2 240.2 L593.2 239.8 L594.2 239.4 L595.1 239.1 L596.1 238.7 L597.1 238.3 L598.1 237.9 L599.1 237.6 L600.1 237.2 L601.1 236.9 L602.0 236.6 L603.1 236.4 L604.1 236.1 L605.1 235.9 L606.1 235.7 L607.1 235.4 L608.2 235.2 L609.2 235.0 L610.2 234.8 L611.3 234.7 L612.3 234.5 L613.3 234.4 L614.4 234.2 L615.4 234.1 L616.4 234.0 L617.5 233.9 L618.5 233.8 L619.6 233.8 L620.6 233.9 L621.6 234.0 L622.7 234.2 L623.7 234.3 L624.8 234.5 L625.8 234.6 L626.8 234.7 L627.9 234.9 L628.9 235.0 L629.9 235.1 L631.0 235.3 L632.0 235.4 L633.1 235.5 L634.1 235.6 L635.1 235.7 L636.2 235.8 L637.2 235.8 L638.3 235.8 L639.3 235.7 L640.4 235.7 L641.5 235.5 L642.5 235.4 L643.5 235.3 L644.5 235.1 L645.5 234.9 L646.4 234.6 L647.4 234.1 L648.3 233.5 L649.2 232.9 L650.1 232.2 L650.9 231.5 L651.7 230.8 L652.4 230.1 L653.1 229.4 L653.8 228.6 L654.4 227.8 L655.0 226.9 L655.6 226.0 L656.2 225.1 L656.7 224.2 L657.2 223.2 L657.7 222.3 L658.2 221.3 L658.6 220.4 L659.0 219.4 L659.4 218.5 L659.8 217.5 L660.2 216.6 L660.6 215.6 L660.9 214.6 L661.3 213.6 L661.6 212.6 L661.9 211.6 L662.2 210.6 L662.5 209.6 L662.8 208.6 L663.1 207.6 L663.4 206.6 L663.7 205.5 L663.9 204.5 L664.2 203.5 L664.4 202.5 L664.7 201.5 L664.9 200.5 L665.1 199.5 L665.3 198.4 L665.5 197.4 L665.8 196.4 L666.0 195.4 L666.2 194.3 L666.4 193.3 L666.6 192.3 L666.8 191.2 L667.0 190.2 L667.2 189.2 L667.3 188.2 L667.5 187.1 L667.7 186.1 L667.9 185.1 L668.1 184.1 L668.3 183.0 L668.5 182.0 L668.7 181.0 L668.9 179.9 L669.1 178.9 L669.2 177.9 L669.4 176.9 L669.6 175.8 L669.8 174.8 L670.0 173.8 L670.1 172.7 L670.3 171.7 L670.5 170.7 L670.7 169.6 L670.8 168.6 L671.0 167.6 L671.2 166.5 L671.3 165.5 L671.5 164.5 L671.7 163.5 L671.8 162.4 L672.0 161.4 L672.2 160.4 L672.3 159.3 L672.5 158.3 L672.6 157.3 L672.8 156.2 L673.0 155.2 L673.1 154.2 L673.3 153.1 L673.4 152.1 L673.6 151.1 L673.7 150.0 L673.9 149.0 L674.0 148.0 L674.2 146.9 L674.3 145.9 L674.5 144.8 L674.6 143.8 L674.7 142.8 L674.9 141.7 L675.0 140.7 L675.2 139.7 L675.3 138.6 L675.5 137.6 L675.6 136.6 L675.7 135.5 L675.9 134.5 L676.0 133.5 L676.1 132.4 L676.3 131.4 L676.4 130.3 L676.5 129.3 L676.7 128.3 L676.8 127.2 L676.9 126.2 L677.1 125.2 L677.2 124.1 L677.3 123.1 L677.4 122.0 L677.6 121.0 L677.7 120.0 L677.8 118.9 L677.9 117.9 L678.1 116.9 L678.2 115.8 L678.3 114.8 L678.4 113.7 L678.6 112.7 L678.7 111.7 L678.8 110.6 L678.9 109.6 L679.0 108.6 L679.2 107.5 L679.3 106.5 L679.4 105.4 L679.5 104.4 L679.6 103.4 L679.7 102.3 L679.9 101.3 L680.0 100.2 L680.1 99.2 L680.2 98.2 L680.3 97.1 L680.4 96.1 L680.5 95.0 L680.6 94.0 L680.8 93.0 L680.9 91.9 L681.0 90.9 L681.1 89.9 L681.2 88.8 L681.3 87.8 L681.4 86.7 L681.5 85.7 L681.6 84.7 L681.7 83.6 L681.8 82.6 L681.9 81.5 L682.0 80.5 L682.1 79.4 L682.2 78.4 L682.3 77.4 L682.4 76.3 L682.5 75.3 L682.6 74.2 L682.7 73.2 L682.8 72.2 L682.9 71.1 L683.0 70.1 L683.1 69.0 L683.2 68.0 L683.3 67.0 L683.4 65.9 L683.5 64.9 L683.6 63.8 L683.7 62.8 L683.8 61.8 L683.9 60.7 L684.0 59.7 L684.1 58.6 L684.2 57.6 L684.3 56.6 L684.4 55.5 L684.5 54.5 L684.6 53.4 L684.8 52.4 L684.9 51.4 L685.0 50.3 L685.1 49.3 L685.2 48.2 L685.3 47.2 L685.4 46.2 L685.5 45.1 L685.6 44.1 L685.7 43.0 L685.8 42.0 L686.0 41.0 L686.1 39.9 L686.2 38.9 L686.3 37.8 L686.4 36.8 L686.5 35.8 L686.6 34.7 L686.7 33.7 L686.9 32.7 L687.0 31.6 L687.1 30.6 L687.2 29.5 L687.3 28.5 L687.4 27.5 L687.5 26.4 L687.7 25.4 L687.8 24.3 L687.9 23.3 L688.0 22.3 L688.1 21.2 L688.2 20.2 L688.3 19.1 L688.5 18.1 L688.6 17.1 L688.7 16.0 L688.8 15.0 L688.9 14.0 L689.0 12.9 L689.2 11.9 L689.3 10.8 L689.4 9.8" stroke="#ff0000" stroke-width="1.3"/>
<path d="M798.0 9.8 L798.2 18.5 L798.5 27.2 L798.7 35.9 L799.0 44.6 L799.3 53.3 L799.6 62.0 L799.9 70.7 L800.2 79.4 L800.5 88.1 L800.8 96.8 L801.1 105.5 L801.5 114.2 L801.8 122.8 L802.2 131.5 L802.6 140.2 L803.0 148.9 L803.4 157.6 L803.8 166.3 L804.3 175.0 L804.7 183.7 L805.2 192.4 L805.6 201.1 L806.1 209.8 L806.5 218.5 L806.8 227.1 L807.2 235.8 L807.6 244.5 L807.9 253.2 L808.2 261.9 L808.6 270.6 L808.9 279.3 L809.2 288.0 L809.6 296.7 L809.9 305.4 L810.1 314.1 L810.4 322.8 L810.7 331.5 L811.1 340.2 L811.5 348.9 L812.0 357.6 L812.5 366.2 L813.0 374.9 L813.6 383.6 L814.1 392.3 L814.5 401.0 L815.0 409.7 L815.5 418.4 L816.2 427.0 L817.0 435.7 L817.9 444.4 L818.9 453.0 L819.7 461.7 L820.6 470.3 L821.5 479.0 L822.5 487.6 L823.4 496.3 L824.4 505.0 L825.6 513.6 L827.6 522.0" stroke="#ff0000" stroke-width="1.3"/>
<path d="M59.0 264.3 L60.8 264.3 L62.7 264.3 L64.5 264.3 L66.4 264.2 L68.2 264.2 L70.1 264.2 L71.9 264.2 L73.8 264.2 L75.6 264.2 L77.5 264.2 L79.3 264.1 L81.1 264.1 L83.0 264.1 L84.8 264.1 L86.7 264.1 L88.5 264.0 L90.4 264.0 L92.2 264.0 L94.1 264.0 L95.9 264.0 L97.8 263.9 L99.6 263.9 L101.5 263.9 L103.3 263.9 L105.1 263.9 L107.0 263.8 L108.8 263.8 L110.7 263.8 L112.5 263.8 L114.4 263.7 L116.2 263.7 L118.1 263.7 L119.9 263.7 L121.8 263.6 L123.6 263.6 L125.4 263.6 L127.3 263.5 L129.1 263.5 L131.0 263.5 L132.8 263.4 L134.7 263.4 L136.5 263.4 L138.4 263.3 L140.2 263.3 L142.1 263.3 L143.9 263.3 L145.7 263.2 L147.6 263.2 L149.4 263.2 L151.3 263.2 L153.1 263.2 L155.0 263.2 L156.8 263.2 L158.7 263.1 L160.5 263.1 L162.4 263.1 L164.2 263.1 L166.1 263.1 L167.9 263.1 L169.7 263.1 L171.6 263.1 L173.4 263.1 L175.3 263.1 L177.1 263.1 L179.0 263.0 L180.8 263.0 L182.7 263.0 L184.5 263.0 L186.4 263.0 L188.2 263.0 L190.0 263.0 L191.9 263.0 L193.7 263.0 L195.6 263.0 L197.4 263.0 L199.3 263.0 L201.1 263.0 L203.0 263.0 L204.8 263.0 L206.7 263.0 L208.5 263.0 L210.4 263.0 L212.2 263.0 L214.0 263.0 L215.9 263.1 L217.7 263.1 L219.6 263.1 L221.4 263.1 L223.3 263.1 L225.1 263.1 L227.0 263.2 L228.8 263.2 L230.7 263.2 L232.5 263.2 L234.4 263.3 L236.2 263.3 L238.0 263.3 L239.9 263.3 L241.7 263.4 L243.6 263.4 L245.4 263.4 L247.3 263.5 L249.1 263.5 L251.0 263.5 L252.8 263.6 L254.6 263.6 L256.5 263.7 L258.3 263.7 L260.2 263.8 L262.0 263.9 L263.9 264.0 L265.7 264.0 L267.6 264.1 L269.4 264.2 L271.2 264.3 L273.1 264.4 L274.9 264.5 L276.8 264.6 L278.6 264.8 L280.5 264.9 L282.3 265.0 L284.1 265.1 L286.0 265.2 L287.8 265.3 L289.7 265.4 L291.5 265.5 L293.4 265.6 L295.2 265.7 L297.0 265.8 L298.9 265.9 L300.7 266.0 L302.6 266.1 L304.4 266.2 L306.3 266.4 L308.1 266.5 L310.0 266.6 L311.8 266.7 L313.6 266.8 L315.5 267.0 L317.3 267.1 L319.2 267.2 L321.0 267.3 L322.9 267.4 L324.7 267.5 L326.5 267.6 L328.4 267.7 L330.2 267.8 L332.1 267.9 L333.9 267.9 L335.8 268.0 L337.6 268.0 L339.5 268.0 L341.3 268.0 L343.1 267.9 L345.0 267.8 L346.8 267.6 L348.7 267.4 L350.5 267.2 L352.3 266.9 L354.1 266.4 L355.9 265.8 L357.6 265.3 L359.4 264.7 L361.1 264.0 L362.7 263.2 L364.3 262.3 L365.9 261.3 L367.4 260.2 L369.0 259.3 L370.6 258.3 L372.3 257.4 L374.0 256.7 L375.8 256.4 L377.6 256.4 L379.5 256.3 L381.3 256.4 L383.1 256.6 L384.9 257.0 L386.8 257.4 L388.5 257.9 L390.3 258.4 L392.1 258.9 L393.8 259.5 L395.6 260.1 L397.3 260.7 L399.1 261.2 L400.9 261.7 L402.7 262.2 L404.5 262.6 L406.2 263.1 L408.0 263.5 L409.8 263.9 L411.6 264.3 L413.4 264.7 L415.3 265.1 L417.1 265.5 L418.8 266.0 L420.6 266.4 L422.4 266.8 L424.2 267.3 L426.0 267.7 L427.8 268.2 L429.6 268.6 L431.4 269.1 L433.2 269.5 L435.0 270.0 L436.8 270.4 L438.5 270.9 L440.3 271.4 L442.1 271.9 L443.9 272.4 L445.6 272.9 L447.4 273.4 L449.2 274.0 L451.0 274.5 L452.7 275.0 L454.5 275.6 L456.2 276.1 L458.0 276.7 L459.8 277.2 L461.5 277.8 L463.3 278.3 L465.1 278.8 L466.8 279.4 L468.6 279.9 L470.4 280.5 L472.1 281.0 L473.9 281.6 L475.6 282.2 L477.4 282.7 L479.2 283.3 L480.9 283.8 L482.7 284.4 L484.5 284.9 L486.3 285.4 L488.0 285.8 L489.8 286.3 L491.6 286.7 L493.4 287.1 L495.2 287.4 L497.0 287.8 L498.8 288.2 L500.7 288.5 L502.5 288.8 L504.3 289.2 L506.1 289.5 L507.9 289.8 L509.8 290.1 L511.6 290.4 L513.4 290.7 L515.2 291.0 L517.0 291.3 L518.9 291.6 L520.7 291.9 L522.5 292.2 L524.3 292.5 L526.2 292.8 L528.0 293.1 L529.8 293.3 L531.6 293.6 L533.5 293.9 L535.3 294.2 L537.1 294.5 L538.9 294.8 L540.7 295.1 L542.5 295.5 L544.4 295.8 L546.2 296.2 L548.0 296.6 L549.8 296.9 L551.6 297.3 L553.4 297.7 L555.2 298.1 L557.0 298.4 L558.8 298.8 L560.6 299.2 L562.4 299.5 L564.3 299.9 L566.1 300.2 L567.9 300.5 L569.7 300.8 L571.5 301.2 L573.4 301.5 L575.2 301.8 L577.0 302.1 L578.8 302.4 L580.6 302.7 L582.5 303.0 L584.3 303.2 L586.1 303.5 L587.9 303.7 L589.8 304.0 L591.6 304.2 L593.4 304.4 L595.3 304.5 L597.1 304.7 L599.0 304.9 L600.8 305.1 L602.6 305.2 L604.5 305.4 L606.4 305.6 L608.2 305.7 L610.0 305.9 L611.8 306.2 L613.6 306.5 L615.3 307.0 L617.1 307.7 L618.8 308.4 L620.5 309.2 L622.2 310.0 L623.9 310.8 L625.6 311.5 L627.3 312.2 L629.0 313.0 L630.7 313.7 L632.4 314.4 L634.1 315.1 L635.8 315.7 L637.6 316.3 L639.3 316.9 L641.1 317.5 L642.9 318.1 L644.7 318.5 L646.5 318.8 L648.3 318.8 L650.2 318.6 L652.0 318.3 L653.7 317.7 L655.4 316.7 L656.9 315.6 L658.1 314.4 L659.2 313.0 L660.1 311.5 L661.1 309.8 L661.9 308.1 L662.7 306.3 L663.4 304.6 L664.2 302.8 L664.9 301.1 L665.5 299.4 L666.2 297.7 L666.8 295.9 L667.4 294.2 L668.0 292.4 L668.5 290.7 L669.1 288.9 L669.6 287.1 L670.2 285.4 L670.7 283.6 L671.3 281.8 L671.8 280.1 L672.3 278.3 L672.9 276.5 L673.4 274.8 L673.9 273.0 L674.4 271.2 L674.9 269.4 L675.3 267.6 L675.8 265.8 L676.2 264.1 L676.7 262.3 L677.1 260.5 L677.5 258.7 L678.0 256.9 L678.4 255.1 L678.8 253.3 L679.2 251.5 L679.6 249.7 L679.9 247.9 L680.3 246.0 L680.6 244.2 L681.0 242.4 L681.3 240.6 L681.6 238.8 L681.9 237.0 L682.2 235.1 L682.5 233.3 L682.8 231.5 L683.1 229.7 L683.4 227.8 L683.6 226.0 L683.9 224.2 L684.2 222.4 L684.5 220.5 L684.7 218.7 L685.0 216.9 L685.2 215.1 L685.5 213.2 L685.7 211.4 L686.0 209.6 L686.3 207.7 L686.5 205.9 L686.8 204.1 L687.0 202.3 L687.3 200.4 L687.6 198.6 L687.8 196.8 L688.1 195.0 L688.4 193.1 L688.6 191.3 L688.9 189.5 L689.1 187.6 L689.4 185.8 L689.7 184.0 L689.9 182.2 L690.2 180.3 L690.5 178.5 L690.7 176.7 L691.0 174.9 L691.3 173.0 L691.5 171.2 L691.8 169.4 L692.1 167.5 L692.3 165.7 L692.6 163.9 L692.8 162.1 L693.1 160.2 L693.3 158.4 L693.6 156.6 L693.8 154.8 L694.1 152.9 L694.3 151.1 L694.5 149.3 L694.8 147.4 L695.0 145.6 L695.2 143.8 L695.4 141.9 L695.6 140.1 L695.9 138.3 L696.1 136.4 L696.3 134.6 L696.5 132.8 L696.7 130.9 L696.9 129.1 L697.1 127.3 L697.3 125.4 L697.5 123.6 L697.7 121.8 L697.9 119.9 L698.1 118.1 L698.3 116.2 L698.5 114.4 L698.7 112.6 L698.9 110.7 L699.1 108.9 L699.3 107.1 L699.4 105.2 L699.6 103.4 L699.8 101.6 L700.0 99.7 L700.2 97.9 L700.4 96.1 L700.6 94.2 L700.8 92.4 L701.0 90.5 L701.1 88.7 L701.3 86.9 L701.5 85.0 L701.7 83.2 L701.9 81.4 L702.0 79.5 L702.2 77.7 L702.4 75.8 L702.6 74.0 L702.8 72.2 L702.9 70.3 L703.1 68.5 L703.3 66.7 L703.5 64.8 L703.7 63.0 L703.8 61.1 L704.0 59.3 L704.2 57.5 L704.4 55.6 L704.6 53.8 L704.8 52.0 L705.0 50.1 L705.2 48.3 L705.4 46.5 L705.6 44.6 L705.8 42.8 L706.0 41.0 L706.2 39.1 L706.4 37.3 L706.6 35.5 L706.8 33.6 L707.0 31.8 L707.3 30.0 L707.5 28.1 L707.7 26.3 L707.9 24.5 L708.1 22.6 L708.4 20.8 L708.6 19.0 L708.8 17.1 L709.0 15.3 L709.2 13.5 L709.5 11.6 L709.7 9.8" stroke="#0000ff" stroke-width="2" stroke-dasharray="2.4 4.7 9 4.9 2.4 4.7"/>
<path d="M822.0 9.8 L822.2 11.8 L822.4 13.8 L822.7 15.9 L822.9 17.9 L823.2 19.9 L823.4 21.9 L823.7 23.9 L823.9 25.9 L824.2 27.9 L824.5 29.9 L824.7 32.0 L825.0 34.0 L825.3 36.0 L825.6 38.0 L825.9 40.0 L826.2 42.0 L826.5 44.0 L826.9 46.0 L827.2 48.0" stroke="#0000ff" stroke-width="2" stroke-dasharray="2.4 4.7 9 4.9 2.4 4.7"/>
</g>
<g fill="none">
<path d="M105.3 48.8 H182.7" stroke="#0000ff" stroke-width="2" stroke-dasharray="9.4 4.5"/>
<path d="M105.3 73.9 H182.7" stroke="#000000" stroke-width="2" stroke-dasharray="2.5 4.8 12.2 5"/>
<path d="M105.3 99.0 H182.7" stroke="#000000" stroke-width="1.3"/>
<path d="M105.3 124.1 H182.7" stroke="#ff0000" stroke-width="2" stroke-dasharray="2.3 4.75"/>
<path d="M105.3 149.2 H182.7" stroke="#ff0000" stroke-width="1.3"/>
<path d="M105.3 174.3 H182.7" stroke="#0000ff" stroke-width="2" stroke-dasharray="2.4 4.7 9 4.9 2.4 4.7"/>
</g>
<path d="M59.0 530.7 h7.5 M827.6 530.7 h-7.5 M59.0 513.9 h7.5 M827.6 513.9 h-7.5 M59.0 497.1 h7.5 M827.6 497.1 h-7.5 M59.0 480.3 h15.0 M827.6 480.3 h-15.0 M59.0 463.5 h7.5 M827.6 463.5 h-7.5 M59.0 446.7 h7.5 M827.6 446.7 h-7.5 M59.0 429.9 h7.5 M827.6 429.9 h-7.5 M59.0 413.1 h15.0 M827.6 413.1 h-15.0 M59.0 396.3 h7.5 M827.6 396.3 h-7.5 M59.0 379.5 h7.5 M827.6 379.5 h-7.5 M59.0 362.7 h7.5 M827.6 362.7 h-7.5 M59.0 345.9 h15.0 M827.6 345.9 h-15.0 M59.0 329.1 h7.5 M827.6 329.1 h-7.5 M59.0 312.3 h7.5 M827.6 312.3 h-7.5 M59.0 295.5 h7.5 M827.6 295.5 h-7.5 M59.0 278.6 h15.0 M827.6 278.6 h-15.0 M59.0 261.8 h7.5 M827.6 261.8 h-7.5 M59.0 245.0 h7.5 M827.6 245.0 h-7.5 M59.0 228.2 h7.5 M827.6 228.2 h-7.5 M59.0 211.4 h15.0 M827.6 211.4 h-15.0 M59.0 194.6 h7.5 M827.6 194.6 h-7.5 M59.0 177.8 h7.5 M827.6 177.8 h-7.5 M59.0 161.0 h7.5 M827.6 161.0 h-7.5 M59.0 144.2 h15.0 M827.6 144.2 h-15.0 M59.0 127.4 h7.5 M827.6 127.4 h-7.5 M59.0 110.6 h7.5 M827.6 110.6 h-7.5 M59.0 93.8 h7.5 M827.6 93.8 h-7.5 M59.0 77.0 h15.0 M827.6 77.0 h-15.0 M59.0 60.2 h7.5 M827.6 60.2 h-7.5 M59.0 43.4 h7.5 M827.6 43.4 h-7.5 M59.0 26.6 h7.5 M827.6 26.6 h-7.5 M106.6 547.5 v-7.5 M106.6 9.8 v7.5 M145.2 547.5 v-7.5 M145.2 9.8 v7.5 M177.8 547.5 v-7.5 M177.8 9.8 v7.5 M206.1 547.5 v-7.5 M206.1 9.8 v7.5 M231.1 547.5 v-7.5 M231.1 9.8 v7.5 M253.4 547.5 v-15.0 M253.4 9.8 v15.0 M400.2 547.5 v-7.5 M400.2 9.8 v7.5 M486.1 547.5 v-7.5 M486.1 9.8 v7.5 M547.1 547.5 v-7.5 M547.1 9.8 v7.5 M594.4 547.5 v-7.5 M594.4 9.8 v7.5 M633.0 547.5 v-7.5 M633.0 9.8 v7.5 M665.6 547.5 v-7.5 M665.6 9.8 v7.5 M693.9 547.5 v-7.5 M693.9 9.8 v7.5 M718.9 547.5 v-7.5 M718.9 9.8 v7.5 M741.2 547.5 v-15.0 M741.2 9.8 v15.0" stroke="#000" stroke-width="1.3" fill="none"/>
<rect x="59.0" y="9.8" width="768.6" height="537.7" fill="none" stroke="#000" stroke-width="1.4"/>
<g font-size="21.6" fill="#000" style="opacity:0.999">
<text x="51.6" y="554.8" text-anchor="end">0</text>
<text x="51.6" y="487.6" text-anchor="end">0.1</text>
<text x="51.6" y="420.4" text-anchor="end">0.2</text>
<text x="51.6" y="353.2" text-anchor="end">0.3</text>
<text x="51.6" y="285.9" text-anchor="end">0.4</text>
<text x="51.6" y="218.7" text-anchor="end">0.5</text>
<text x="51.6" y="151.5" text-anchor="end">0.6</text>
<text x="51.6" y="84.3" text-anchor="end">0.7</text>
<text x="51.6" y="17.1" text-anchor="end">0.8</text>
<text x="253.7" y="579" text-anchor="middle">10<tspan dy="-14" dx="-0.5" font-size="15">-4</tspan></text>
<text x="741.5" y="579" text-anchor="middle">10<tspan dy="-14" dx="-0.5" font-size="15">-3</tspan></text>
<text x="443.3" y="596.6" text-anchor="middle" font-style="italic" font-size="21.5">a</text>
<text transform="translate(17,278.5) rotate(-90)" text-anchor="middle" font-size="21.5">Source term</text>
<text x="466.4" y="216.6" font-size="21.4">Helium</text>
<text x="198" y="53.6" font-size="19.4">tight coupling approximation</text>
<text x="198" y="78.7" font-size="19.4">numerical (total)</text>
<text x="198" y="103.8" font-size="19.4">numerical (parts)</text>
<text x="198" y="128.9" font-size="19.4">numerical (including high <tspan font-style="italic">l</tspan>)</text>
<text x="198" y="154.0" font-size="19.4">partial rate tight coupling approx</text>
<text x="198" y="179.1" font-size="19.4">tight coupling approximation II</text>
</g>
<g stroke="#000" stroke-width="1.3" fill="none">
<path d="M458.8 213.8 L383.5 230.2"/>
<path d="M537.5 214.5 L607 226.5"/>
<path d="M394.2 224.3 L383.2 230.3 L395.6 231.1" stroke-width="1.6" stroke-linejoin="miter" stroke-miterlimit="10"/>
<path d="M595.0 228.0 L607.4 226.6 L596.2 221.2" stroke-width="1.6" stroke-linejoin="miter" stroke-miterlimit="10"/>
</g>
</svg>
</body></html>
